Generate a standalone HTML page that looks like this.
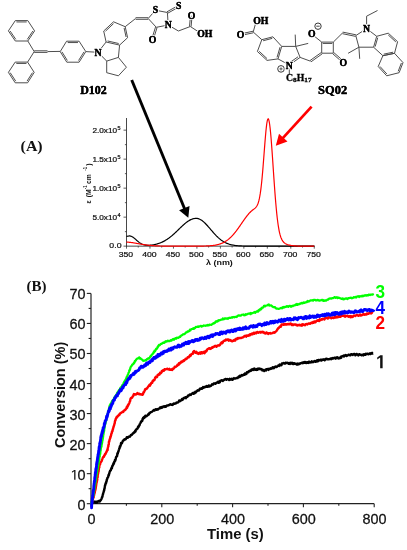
<!DOCTYPE html>
<html><head><meta charset="utf-8"><style>
html,body{margin:0;padding:0;background:#fff;}
svg{display:block;will-change:transform;}
</style></head><body>
<svg width="407" height="550" viewBox="0 0 407 550">
<rect width="407" height="550" fill="#fff"/>
<line x1="15.30" y1="20.60" x2="27.80" y2="20.60" stroke="#444" stroke-width="0.95"/>
<line x1="27.80" y1="20.60" x2="34.60" y2="30.90" stroke="#444" stroke-width="0.95"/>
<line x1="34.60" y1="30.90" x2="27.80" y2="41.00" stroke="#444" stroke-width="0.95"/>
<line x1="27.80" y1="41.00" x2="15.30" y2="41.00" stroke="#444" stroke-width="0.95"/>
<line x1="15.30" y1="41.00" x2="8.40" y2="30.90" stroke="#444" stroke-width="0.95"/>
<line x1="8.40" y1="30.90" x2="15.30" y2="20.60" stroke="#444" stroke-width="0.95"/>
<line x1="16.43" y1="21.95" x2="26.68" y2="21.95" stroke="#444" stroke-width="0.95"/>
<line x1="32.87" y1="31.06" x2="27.29" y2="39.34" stroke="#444" stroke-width="0.95"/>
<line x1="15.79" y1="39.33" x2="10.14" y2="31.05" stroke="#444" stroke-width="0.95"/>
<line x1="15.20" y1="62.10" x2="27.60" y2="62.10" stroke="#444" stroke-width="0.95"/>
<line x1="27.60" y1="62.10" x2="34.20" y2="72.40" stroke="#444" stroke-width="0.95"/>
<line x1="34.20" y1="72.40" x2="27.60" y2="82.80" stroke="#444" stroke-width="0.95"/>
<line x1="27.60" y1="82.80" x2="15.20" y2="82.80" stroke="#444" stroke-width="0.95"/>
<line x1="15.20" y1="82.80" x2="8.40" y2="72.40" stroke="#444" stroke-width="0.95"/>
<line x1="8.40" y1="72.40" x2="15.20" y2="62.10" stroke="#444" stroke-width="0.95"/>
<line x1="16.32" y1="63.45" x2="26.48" y2="63.45" stroke="#444" stroke-width="0.95"/>
<line x1="32.47" y1="72.61" x2="27.05" y2="81.14" stroke="#444" stroke-width="0.95"/>
<line x1="15.72" y1="81.13" x2="10.14" y2="72.60" stroke="#444" stroke-width="0.95"/>
<line x1="27.80" y1="41.00" x2="34.20" y2="51.60" stroke="#444" stroke-width="0.95"/>
<line x1="27.60" y1="62.10" x2="34.20" y2="51.60" stroke="#444" stroke-width="0.95"/>
<line x1="34.20" y1="52.40" x2="47.50" y2="52.40" stroke="#444" stroke-width="0.95"/>
<line x1="34.20" y1="50.80" x2="47.50" y2="50.80" stroke="#444" stroke-width="0.95"/>
<line x1="47.50" y1="51.60" x2="60.20" y2="51.40" stroke="#444" stroke-width="0.95"/>
<line x1="60.20" y1="51.60" x2="66.60" y2="41.20" stroke="#444" stroke-width="0.95"/>
<line x1="66.60" y1="41.20" x2="79.10" y2="41.20" stroke="#444" stroke-width="0.95"/>
<line x1="79.10" y1="41.20" x2="85.80" y2="51.60" stroke="#444" stroke-width="0.95"/>
<line x1="85.80" y1="51.60" x2="79.10" y2="62.20" stroke="#444" stroke-width="0.95"/>
<line x1="79.10" y1="62.20" x2="66.80" y2="62.20" stroke="#444" stroke-width="0.95"/>
<line x1="66.80" y1="62.20" x2="60.20" y2="51.60" stroke="#444" stroke-width="0.95"/>
<line x1="67.72" y1="42.55" x2="77.97" y2="42.55" stroke="#444" stroke-width="0.95"/>
<line x1="84.06" y1="51.83" x2="78.56" y2="60.52" stroke="#444" stroke-width="0.95"/>
<line x1="67.35" y1="60.53" x2="61.94" y2="51.84" stroke="#444" stroke-width="0.95"/>
<line x1="85.80" y1="51.60" x2="98.00" y2="52.30" stroke="#444" stroke-width="0.95"/>
<line x1="113.50" y1="21.80" x2="125.20" y2="26.70" stroke="#444" stroke-width="0.95"/>
<line x1="125.20" y1="26.70" x2="127.60" y2="37.70" stroke="#444" stroke-width="0.95"/>
<line x1="127.60" y1="37.70" x2="119.60" y2="45.10" stroke="#444" stroke-width="0.95"/>
<line x1="119.60" y1="45.10" x2="106.10" y2="42.00" stroke="#444" stroke-width="0.95"/>
<line x1="106.10" y1="42.00" x2="103.70" y2="31.00" stroke="#444" stroke-width="0.95"/>
<line x1="103.70" y1="31.00" x2="113.50" y2="21.80" stroke="#444" stroke-width="0.95"/>
<line x1="105.51" y1="31.16" x2="113.54" y2="23.61" stroke="#444" stroke-width="0.95"/>
<line x1="124.10" y1="27.98" x2="126.07" y2="37.00" stroke="#444" stroke-width="0.95"/>
<line x1="107.62" y1="40.96" x2="118.69" y2="43.51" stroke="#444" stroke-width="0.95"/>
<line x1="98.00" y1="52.30" x2="106.10" y2="42.00" stroke="#444" stroke-width="0.95"/>
<line x1="98.00" y1="52.30" x2="106.70" y2="61.10" stroke="#444" stroke-width="0.95"/>
<line x1="119.60" y1="45.10" x2="118.40" y2="57.40" stroke="#444" stroke-width="0.95"/>
<line x1="118.40" y1="57.40" x2="106.70" y2="61.10" stroke="#444" stroke-width="0.95"/>
<line x1="106.70" y1="61.10" x2="106.70" y2="72.70" stroke="#444" stroke-width="0.95"/>
<line x1="106.70" y1="72.70" x2="118.40" y2="75.80" stroke="#444" stroke-width="0.95"/>
<line x1="118.40" y1="75.80" x2="126.40" y2="67.20" stroke="#444" stroke-width="0.95"/>
<line x1="126.40" y1="67.20" x2="118.40" y2="57.40" stroke="#444" stroke-width="0.95"/>
<line x1="125.20" y1="26.70" x2="135.60" y2="18.50" stroke="#444" stroke-width="0.95"/>
<line x1="135.60" y1="19.30" x2="148.20" y2="19.30" stroke="#444" stroke-width="0.95"/>
<line x1="135.60" y1="17.70" x2="148.20" y2="17.70" stroke="#444" stroke-width="0.95"/>
<line x1="148.20" y1="18.50" x2="155.40" y2="10.20" stroke="#444" stroke-width="0.95"/>
<line x1="155.40" y1="10.20" x2="167.40" y2="12.50" stroke="#444" stroke-width="0.95"/>
<line x1="167.40" y1="12.50" x2="168.20" y2="25.00" stroke="#444" stroke-width="0.95"/>
<line x1="168.20" y1="25.00" x2="156.30" y2="27.30" stroke="#444" stroke-width="0.95"/>
<line x1="156.30" y1="27.30" x2="148.20" y2="18.50" stroke="#444" stroke-width="0.95"/>
<line x1="155.54" y1="27.06" x2="152.04" y2="38.26" stroke="#444" stroke-width="0.95"/>
<line x1="157.06" y1="27.54" x2="153.56" y2="38.74" stroke="#444" stroke-width="0.95"/>
<line x1="167.79" y1="13.20" x2="177.89" y2="7.50" stroke="#444" stroke-width="0.95"/>
<line x1="167.01" y1="11.80" x2="177.11" y2="6.10" stroke="#444" stroke-width="0.95"/>
<line x1="168.20" y1="25.00" x2="178.40" y2="31.00" stroke="#444" stroke-width="0.95"/>
<line x1="178.40" y1="31.00" x2="190.30" y2="26.50" stroke="#444" stroke-width="0.95"/>
<line x1="191.10" y1="26.57" x2="192.10" y2="15.57" stroke="#444" stroke-width="0.95"/>
<line x1="189.50" y1="26.43" x2="190.50" y2="15.43" stroke="#444" stroke-width="0.95"/>
<line x1="190.30" y1="26.50" x2="198.00" y2="31.50" stroke="#444" stroke-width="0.95"/>
<text transform="translate(155.50,12.60) scale(1.04,1)" font-family="Liberation Serif" font-weight="bold" font-size="9.4" text-anchor="middle" fill="#000" stroke="#fff" stroke-width="2.2" paint-order="stroke">S</text>
<text transform="translate(155.50,12.60) scale(1.04,1)" font-family="Liberation Serif" font-weight="bold" font-size="9.4" text-anchor="middle" fill="#000" stroke="#000" stroke-width="0.3">S</text>
<text transform="translate(178.60,9.20) scale(1.04,1)" font-family="Liberation Serif" font-weight="bold" font-size="9.4" text-anchor="middle" fill="#000" stroke="#fff" stroke-width="2.2" paint-order="stroke">S</text>
<text transform="translate(178.60,9.20) scale(1.04,1)" font-family="Liberation Serif" font-weight="bold" font-size="9.4" text-anchor="middle" fill="#000" stroke="#000" stroke-width="0.3">S</text>
<text transform="translate(168.20,28.30) scale(1.04,1)" font-family="Liberation Serif" font-weight="bold" font-size="9.4" text-anchor="middle" fill="#000" stroke="#fff" stroke-width="2.2" paint-order="stroke">N</text>
<text transform="translate(168.20,28.30) scale(1.04,1)" font-family="Liberation Serif" font-weight="bold" font-size="9.4" text-anchor="middle" fill="#000" stroke="#000" stroke-width="0.3">N</text>
<text transform="translate(152.60,42.80) scale(1.04,1)" font-family="Liberation Serif" font-weight="bold" font-size="9.4" text-anchor="middle" fill="#000" stroke="#fff" stroke-width="2.2" paint-order="stroke">O</text>
<text transform="translate(152.60,42.80) scale(1.04,1)" font-family="Liberation Serif" font-weight="bold" font-size="9.4" text-anchor="middle" fill="#000" stroke="#000" stroke-width="0.3">O</text>
<text transform="translate(191.60,18.80) scale(1.04,1)" font-family="Liberation Serif" font-weight="bold" font-size="9.4" text-anchor="middle" fill="#000" stroke="#fff" stroke-width="2.2" paint-order="stroke">O</text>
<text transform="translate(191.60,18.80) scale(1.04,1)" font-family="Liberation Serif" font-weight="bold" font-size="9.4" text-anchor="middle" fill="#000" stroke="#000" stroke-width="0.3">O</text>
<text transform="translate(197.20,36.60) scale(1.04,1)" font-family="Liberation Serif" font-weight="bold" font-size="9.4" text-anchor="start" fill="#000" stroke="#fff" stroke-width="2.2" paint-order="stroke">OH</text>
<text transform="translate(197.20,36.60) scale(1.04,1)" font-family="Liberation Serif" font-weight="bold" font-size="9.4" text-anchor="start" fill="#000" stroke="#000" stroke-width="0.3">OH</text>
<text transform="translate(98.00,55.60) scale(1.04,1)" font-family="Liberation Serif" font-weight="bold" font-size="9.4" text-anchor="middle" fill="#000" stroke="#fff" stroke-width="2.2" paint-order="stroke">N</text>
<text transform="translate(98.00,55.60) scale(1.04,1)" font-family="Liberation Serif" font-weight="bold" font-size="9.4" text-anchor="middle" fill="#000" stroke="#000" stroke-width="0.3">N</text>
<text transform="translate(93.50,93.70) scale(1.0,1)" font-family="Liberation Serif" font-weight="bold" font-size="12" text-anchor="middle" fill="#000" stroke="#fff" stroke-width="2.2" paint-order="stroke">D102</text>
<text transform="translate(93.50,93.70) scale(1.0,1)" font-family="Liberation Serif" font-weight="bold" font-size="12" text-anchor="middle" fill="#000" stroke="#000" stroke-width="0.3">D102</text>
<line x1="261.80" y1="39.70" x2="272.90" y2="36.80" stroke="#444" stroke-width="0.95"/>
<line x1="272.90" y1="36.80" x2="281.70" y2="46.40" stroke="#444" stroke-width="0.95"/>
<line x1="281.70" y1="46.40" x2="278.00" y2="58.90" stroke="#444" stroke-width="0.95"/>
<line x1="278.00" y1="58.90" x2="267.00" y2="60.40" stroke="#444" stroke-width="0.95"/>
<line x1="267.00" y1="60.40" x2="257.40" y2="51.50" stroke="#444" stroke-width="0.95"/>
<line x1="257.40" y1="51.50" x2="261.80" y2="39.70" stroke="#444" stroke-width="0.95"/>
<line x1="263.14" y1="40.75" x2="272.24" y2="38.37" stroke="#444" stroke-width="0.95"/>
<line x1="280.07" y1="47.14" x2="277.04" y2="57.39" stroke="#444" stroke-width="0.95"/>
<line x1="267.05" y1="58.61" x2="259.18" y2="51.31" stroke="#444" stroke-width="0.95"/>
<line x1="261.80" y1="39.70" x2="253.20" y2="32.00" stroke="#444" stroke-width="0.95"/>
<line x1="253.03" y1="31.22" x2="241.33" y2="33.72" stroke="#444" stroke-width="0.95"/>
<line x1="253.37" y1="32.78" x2="241.67" y2="35.28" stroke="#444" stroke-width="0.95"/>
<line x1="253.20" y1="32.00" x2="256.00" y2="22.00" stroke="#444" stroke-width="0.95"/>
<line x1="281.70" y1="46.40" x2="295.70" y2="46.40" stroke="#444" stroke-width="0.95"/>
<line x1="295.70" y1="46.40" x2="295.20" y2="34.60" stroke="#444" stroke-width="0.95"/>
<line x1="295.70" y1="46.40" x2="308.20" y2="43.40" stroke="#444" stroke-width="0.95"/>
<line x1="295.70" y1="46.40" x2="300.10" y2="57.40" stroke="#444" stroke-width="0.95"/>
<line x1="278.00" y1="58.90" x2="289.30" y2="65.00" stroke="#444" stroke-width="0.95"/>
<line x1="289.30" y1="65.00" x2="300.10" y2="57.40" stroke="#444" stroke-width="0.95"/>
<line x1="289.40" y1="62.85" x2="298.04" y2="56.77" stroke="#444" stroke-width="0.95"/>
<circle cx="281.0" cy="68.9" r="3.3" fill="none" stroke="#222" stroke-width="0.9"/>
<line x1="279.4" y1="68.9" x2="282.6" y2="68.9" stroke="#333" stroke-width="0.8"/><line x1="281.0" y1="67.3" x2="281.0" y2="70.5" stroke="#333" stroke-width="0.8"/>
<line x1="289.30" y1="65.00" x2="289.30" y2="74.00" stroke="#444" stroke-width="0.95"/>
<line x1="300.10" y1="57.40" x2="310.50" y2="61.20" stroke="#444" stroke-width="0.95"/>
<line x1="321.70" y1="42.10" x2="333.30" y2="42.10" stroke="#444" stroke-width="0.95"/>
<line x1="333.30" y1="42.10" x2="333.30" y2="53.20" stroke="#444" stroke-width="0.95"/>
<line x1="333.30" y1="53.20" x2="321.70" y2="53.20" stroke="#444" stroke-width="0.95"/>
<line x1="321.70" y1="53.20" x2="321.70" y2="42.10" stroke="#444" stroke-width="0.95"/>
<line x1="322.74" y1="43.45" x2="332.26" y2="43.45" stroke="#444" stroke-width="0.95"/>
<line x1="310.96" y1="61.85" x2="322.16" y2="53.85" stroke="#444" stroke-width="0.95"/>
<line x1="310.04" y1="60.55" x2="321.24" y2="52.55" stroke="#444" stroke-width="0.95"/>
<line x1="321.70" y1="42.10" x2="313.50" y2="35.50" stroke="#444" stroke-width="0.95"/>
<line x1="332.77" y1="53.80" x2="339.97" y2="60.10" stroke="#444" stroke-width="0.95"/>
<line x1="333.83" y1="52.60" x2="341.03" y2="58.90" stroke="#444" stroke-width="0.95"/>
<circle cx="318.0" cy="26.2" r="3.2" fill="none" stroke="#222" stroke-width="0.9"/><line x1="316.3" y1="26.2" x2="319.7" y2="26.2" stroke="#333" stroke-width="0.9"/>
<line x1="333.30" y1="42.10" x2="342.60" y2="32.90" stroke="#444" stroke-width="0.95"/>
<line x1="342.44" y1="33.68" x2="355.64" y2="36.38" stroke="#444" stroke-width="0.95"/>
<line x1="342.76" y1="32.12" x2="355.96" y2="34.82" stroke="#444" stroke-width="0.95"/>
<line x1="355.80" y1="35.60" x2="366.60" y2="28.60" stroke="#444" stroke-width="0.95"/>
<line x1="366.60" y1="28.60" x2="366.60" y2="16.20" stroke="#444" stroke-width="0.95"/>
<line x1="366.60" y1="16.20" x2="377.50" y2="10.50" stroke="#444" stroke-width="0.95"/>
<line x1="355.80" y1="35.60" x2="358.90" y2="47.20" stroke="#444" stroke-width="0.95"/>
<line x1="358.90" y1="47.20" x2="348.10" y2="53.30" stroke="#444" stroke-width="0.95"/>
<line x1="358.90" y1="47.20" x2="359.70" y2="58.80" stroke="#444" stroke-width="0.95"/>
<line x1="376.70" y1="36.30" x2="388.30" y2="33.20" stroke="#444" stroke-width="0.95"/>
<line x1="388.30" y1="33.20" x2="397.60" y2="41.70" stroke="#444" stroke-width="0.95"/>
<line x1="397.60" y1="41.70" x2="394.50" y2="53.30" stroke="#444" stroke-width="0.95"/>
<line x1="394.50" y1="53.30" x2="382.90" y2="55.70" stroke="#444" stroke-width="0.95"/>
<line x1="382.90" y1="55.70" x2="373.60" y2="47.20" stroke="#444" stroke-width="0.95"/>
<line x1="373.60" y1="47.20" x2="376.70" y2="36.30" stroke="#444" stroke-width="0.95"/>
<line x1="388.23" y1="34.96" x2="395.85" y2="41.93" stroke="#444" stroke-width="0.95"/>
<line x1="375.18" y1="46.59" x2="377.72" y2="37.65" stroke="#444" stroke-width="0.95"/>
<line x1="393.18" y1="52.19" x2="383.67" y2="54.16" stroke="#444" stroke-width="0.95"/>
<line x1="358.90" y1="47.20" x2="373.60" y2="47.20" stroke="#444" stroke-width="0.95"/>
<line x1="366.60" y1="28.60" x2="376.70" y2="36.30" stroke="#444" stroke-width="0.95"/>
<line x1="382.90" y1="55.70" x2="394.50" y2="53.30" stroke="#444" stroke-width="0.95"/>
<line x1="394.50" y1="53.30" x2="403.00" y2="62.60" stroke="#444" stroke-width="0.95"/>
<line x1="403.00" y1="62.60" x2="399.10" y2="72.70" stroke="#444" stroke-width="0.95"/>
<line x1="399.10" y1="72.70" x2="386.70" y2="75.80" stroke="#444" stroke-width="0.95"/>
<line x1="386.70" y1="75.80" x2="378.20" y2="66.50" stroke="#444" stroke-width="0.95"/>
<line x1="378.20" y1="66.50" x2="382.90" y2="55.70" stroke="#444" stroke-width="0.95"/>
<line x1="401.39" y1="63.02" x2="398.19" y2="71.30" stroke="#444" stroke-width="0.95"/>
<line x1="386.93" y1="74.05" x2="379.96" y2="66.43" stroke="#444" stroke-width="0.95"/>
<text transform="translate(240.50,38.00) scale(1.04,1)" font-family="Liberation Serif" font-weight="bold" font-size="9.4" text-anchor="middle" fill="#000" stroke="#fff" stroke-width="2.2" paint-order="stroke">O</text>
<text transform="translate(240.50,38.00) scale(1.04,1)" font-family="Liberation Serif" font-weight="bold" font-size="9.4" text-anchor="middle" fill="#000" stroke="#000" stroke-width="0.3">O</text>
<text transform="translate(253.20,24.00) scale(1.04,1)" font-family="Liberation Serif" font-weight="bold" font-size="9.4" text-anchor="start" fill="#000" stroke="#fff" stroke-width="2.2" paint-order="stroke">OH</text>
<text transform="translate(253.20,24.00) scale(1.04,1)" font-family="Liberation Serif" font-weight="bold" font-size="9.4" text-anchor="start" fill="#000" stroke="#000" stroke-width="0.3">OH</text>
<text transform="translate(289.30,68.60) scale(1.04,1)" font-family="Liberation Serif" font-weight="bold" font-size="9.4" text-anchor="middle" fill="#000" stroke="#fff" stroke-width="2.2" paint-order="stroke">N</text>
<text transform="translate(289.30,68.60) scale(1.04,1)" font-family="Liberation Serif" font-weight="bold" font-size="9.4" text-anchor="middle" fill="#000" stroke="#000" stroke-width="0.3">N</text>
<text transform="translate(311.80,37.40) scale(1.04,1)" font-family="Liberation Serif" font-weight="bold" font-size="9.4" text-anchor="middle" fill="#000" stroke="#fff" stroke-width="2.2" paint-order="stroke">O</text>
<text transform="translate(311.80,37.40) scale(1.04,1)" font-family="Liberation Serif" font-weight="bold" font-size="9.4" text-anchor="middle" fill="#000" stroke="#000" stroke-width="0.3">O</text>
<text transform="translate(343.20,65.80) scale(1.04,1)" font-family="Liberation Serif" font-weight="bold" font-size="9.4" text-anchor="middle" fill="#000" stroke="#fff" stroke-width="2.2" paint-order="stroke">O</text>
<text transform="translate(343.20,65.80) scale(1.04,1)" font-family="Liberation Serif" font-weight="bold" font-size="9.4" text-anchor="middle" fill="#000" stroke="#000" stroke-width="0.3">O</text>
<text transform="translate(366.60,31.90) scale(1.04,1)" font-family="Liberation Serif" font-weight="bold" font-size="9.4" text-anchor="middle" fill="#000" stroke="#fff" stroke-width="2.2" paint-order="stroke">N</text>
<text transform="translate(366.60,31.90) scale(1.04,1)" font-family="Liberation Serif" font-weight="bold" font-size="9.4" text-anchor="middle" fill="#000" stroke="#000" stroke-width="0.3">N</text>
<text transform="translate(286.00,80.60) scale(1.04,1)" font-family="Liberation Serif" font-weight="bold" font-size="9.4" text-anchor="start" fill="#000" stroke="#000" stroke-width="0.3">C<tspan font-size="7" dy="1.8">8</tspan><tspan dy="-1.8">H</tspan><tspan font-size="7" dy="1.8">17</tspan></text>
<text transform="translate(332.60,94.00) scale(1.04,1)" font-family="Liberation Serif" font-weight="bold" font-size="12" text-anchor="middle" fill="#000" stroke="#fff" stroke-width="2.2" paint-order="stroke">SQ02</text>
<text transform="translate(332.60,94.00) scale(1.04,1)" font-family="Liberation Serif" font-weight="bold" font-size="12" text-anchor="middle" fill="#000" stroke="#000" stroke-width="0.3">SQ02</text>
<line x1="131.7" y1="80.0" x2="184.69" y2="209.01" stroke="#000" stroke-width="2.9"/>
<polygon points="188.30,217.80 179.08,210.23 189.54,205.94" fill="#000"/>
<line x1="311.6" y1="106.7" x2="282.56" y2="138.33" stroke="#f00" stroke-width="2.7"/>
<polygon points="275.80,145.70 279.00,133.71 287.47,141.48" fill="#f00"/>
<line x1="126.5" y1="118.0" x2="126.5" y2="246.65" stroke="#333" stroke-width="0.9"/>
<line x1="126.0" y1="246.15" x2="314.76" y2="246.15" stroke="#333" stroke-width="0.9"/>
<line x1="123.5" y1="246.15" x2="126.5" y2="246.15" stroke="#333" stroke-width="0.8"/>
<line x1="124.9" y1="231.65" x2="126.5" y2="231.65" stroke="#333" stroke-width="0.8"/>
<line x1="123.5" y1="217.15" x2="126.5" y2="217.15" stroke="#333" stroke-width="0.8"/>
<line x1="124.9" y1="202.65" x2="126.5" y2="202.65" stroke="#333" stroke-width="0.8"/>
<line x1="123.5" y1="188.15" x2="126.5" y2="188.15" stroke="#333" stroke-width="0.8"/>
<line x1="124.9" y1="173.65" x2="126.5" y2="173.65" stroke="#333" stroke-width="0.8"/>
<line x1="123.5" y1="159.15" x2="126.5" y2="159.15" stroke="#333" stroke-width="0.8"/>
<line x1="124.9" y1="144.65" x2="126.5" y2="144.65" stroke="#333" stroke-width="0.8"/>
<line x1="123.5" y1="130.15" x2="126.5" y2="130.15" stroke="#333" stroke-width="0.8"/>
<line x1="126.50" y1="246.15" x2="126.50" y2="248.65" stroke="#333" stroke-width="0.8"/>
<line x1="138.24" y1="246.15" x2="138.24" y2="247.55" stroke="#333" stroke-width="0.8"/>
<line x1="149.97" y1="246.15" x2="149.97" y2="248.65" stroke="#333" stroke-width="0.8"/>
<line x1="161.70" y1="246.15" x2="161.70" y2="247.55" stroke="#333" stroke-width="0.8"/>
<line x1="173.44" y1="246.15" x2="173.44" y2="248.65" stroke="#333" stroke-width="0.8"/>
<line x1="185.18" y1="246.15" x2="185.18" y2="247.55" stroke="#333" stroke-width="0.8"/>
<line x1="196.91" y1="246.15" x2="196.91" y2="248.65" stroke="#333" stroke-width="0.8"/>
<line x1="208.64" y1="246.15" x2="208.64" y2="247.55" stroke="#333" stroke-width="0.8"/>
<line x1="220.38" y1="246.15" x2="220.38" y2="248.65" stroke="#333" stroke-width="0.8"/>
<line x1="232.12" y1="246.15" x2="232.12" y2="247.55" stroke="#333" stroke-width="0.8"/>
<line x1="243.85" y1="246.15" x2="243.85" y2="248.65" stroke="#333" stroke-width="0.8"/>
<line x1="255.59" y1="246.15" x2="255.59" y2="247.55" stroke="#333" stroke-width="0.8"/>
<line x1="267.32" y1="246.15" x2="267.32" y2="248.65" stroke="#333" stroke-width="0.8"/>
<line x1="279.06" y1="246.15" x2="279.06" y2="247.55" stroke="#333" stroke-width="0.8"/>
<line x1="290.79" y1="246.15" x2="290.79" y2="248.65" stroke="#333" stroke-width="0.8"/>
<line x1="302.52" y1="246.15" x2="302.52" y2="247.55" stroke="#333" stroke-width="0.8"/>
<line x1="314.26" y1="246.15" x2="314.26" y2="248.65" stroke="#333" stroke-width="0.8"/>
<text transform="translate(121.50,248.05) scale(1.15,1)" font-family="Liberation Sans" font-weight="normal" font-size="7.6" text-anchor="end" fill="#111" stroke="#111" stroke-width="0.22">0.0</text>
<text transform="translate(117.10,220.35) scale(1.085,1)" font-family="Liberation Sans" font-weight="normal" font-size="7.6" text-anchor="end" fill="#111" stroke="#111" stroke-width="0.22">5.0x10</text>
<text transform="translate(117.50,217.05) scale(1.1,1)" font-family="Liberation Sans" font-weight="normal" font-size="5" text-anchor="start" fill="#111" stroke="#111" stroke-width="0.22">4</text>
<text transform="translate(117.10,191.35) scale(1.085,1)" font-family="Liberation Sans" font-weight="normal" font-size="7.6" text-anchor="end" fill="#111" stroke="#111" stroke-width="0.22">1.0x10</text>
<text transform="translate(117.50,188.05) scale(1.1,1)" font-family="Liberation Sans" font-weight="normal" font-size="5" text-anchor="start" fill="#111" stroke="#111" stroke-width="0.22">5</text>
<text transform="translate(117.10,162.35) scale(1.085,1)" font-family="Liberation Sans" font-weight="normal" font-size="7.6" text-anchor="end" fill="#111" stroke="#111" stroke-width="0.22">1.5x10</text>
<text transform="translate(117.50,159.05) scale(1.1,1)" font-family="Liberation Sans" font-weight="normal" font-size="5" text-anchor="start" fill="#111" stroke="#111" stroke-width="0.22">5</text>
<text transform="translate(117.10,133.35) scale(1.085,1)" font-family="Liberation Sans" font-weight="normal" font-size="7.6" text-anchor="end" fill="#111" stroke="#111" stroke-width="0.22">2.0x10</text>
<text transform="translate(117.50,130.05) scale(1.1,1)" font-family="Liberation Sans" font-weight="normal" font-size="5" text-anchor="start" fill="#111" stroke="#111" stroke-width="0.22">5</text>
<text transform="translate(125.90,256.90) scale(1.14,1)" font-family="Liberation Sans" font-weight="normal" font-size="7.6" text-anchor="middle" fill="#111" stroke="#111" stroke-width="0.22">350</text>
<text transform="translate(149.37,256.90) scale(1.14,1)" font-family="Liberation Sans" font-weight="normal" font-size="7.6" text-anchor="middle" fill="#111" stroke="#111" stroke-width="0.22">400</text>
<text transform="translate(172.84,256.90) scale(1.14,1)" font-family="Liberation Sans" font-weight="normal" font-size="7.6" text-anchor="middle" fill="#111" stroke="#111" stroke-width="0.22">450</text>
<text transform="translate(196.31,256.90) scale(1.14,1)" font-family="Liberation Sans" font-weight="normal" font-size="7.6" text-anchor="middle" fill="#111" stroke="#111" stroke-width="0.22">500</text>
<text transform="translate(219.78,256.90) scale(1.14,1)" font-family="Liberation Sans" font-weight="normal" font-size="7.6" text-anchor="middle" fill="#111" stroke="#111" stroke-width="0.22">550</text>
<text transform="translate(243.25,256.90) scale(1.14,1)" font-family="Liberation Sans" font-weight="normal" font-size="7.6" text-anchor="middle" fill="#111" stroke="#111" stroke-width="0.22">600</text>
<text transform="translate(266.72,256.90) scale(1.14,1)" font-family="Liberation Sans" font-weight="normal" font-size="7.6" text-anchor="middle" fill="#111" stroke="#111" stroke-width="0.22">650</text>
<text transform="translate(290.19,256.90) scale(1.14,1)" font-family="Liberation Sans" font-weight="normal" font-size="7.6" text-anchor="middle" fill="#111" stroke="#111" stroke-width="0.22">700</text>
<text transform="translate(313.66,256.90) scale(1.14,1)" font-family="Liberation Sans" font-weight="normal" font-size="7.6" text-anchor="middle" fill="#111" stroke="#111" stroke-width="0.22">750</text>
<text transform="translate(219.40,265.10) scale(1.15,1)" font-family="Liberation Sans" font-weight="bold" font-size="7.8" text-anchor="middle" fill="#111" >λ (nm)</text>
<g transform="translate(90.5,203.4) rotate(-90) scale(1,1.1)" font-family="Liberation Sans" font-weight="bold" fill="#111"><text x="0" y="0" font-size="6.6">ε</text><text x="6.1" y="0" font-size="6.8">(</text><text x="8.4" y="0" font-size="6.8">M</text><text x="14.2" y="-3.0" font-size="4.3">-1</text><text x="19.4" y="0" font-size="6.8">cm</text><text x="32.6" y="-3.0" font-size="4.3">-1</text><text x="37.6" y="0" font-size="6.8">)</text></g>
<path d="M126.50,236.50 L126.97,236.34 L127.44,236.21 L127.91,236.11 L128.38,236.03 L128.85,235.98 L129.32,235.96 L129.79,235.97 L130.26,236.03 L130.72,236.13 L131.19,236.28 L131.66,236.48 L132.13,236.71 L132.60,236.98 L133.07,237.29 L133.54,237.63 L134.01,237.99 L134.48,238.37 L134.95,238.76 L135.42,239.17 L135.89,239.59 L136.36,240.01 L136.83,240.43 L137.30,240.84 L137.77,241.24 L138.24,241.63 L138.70,242.01 L139.17,242.37 L139.64,242.71 L140.11,243.03 L140.58,243.32 L141.05,243.60 L141.52,243.85 L141.99,244.08 L142.46,244.29 L142.93,244.47 L143.40,244.64 L143.87,244.78 L144.34,244.90 L144.81,245.01 L145.28,245.10 L145.75,245.17 L146.21,245.22 L146.68,245.27 L147.15,245.29 L147.62,245.31 L148.09,245.32 L148.56,245.31 L149.03,245.30 L149.50,245.27 L149.97,245.24 L150.44,245.20 L150.91,245.16 L151.38,245.10 L151.85,245.04 L152.32,244.98 L152.79,244.91 L153.26,244.83 L153.73,244.74 L154.19,244.65 L154.66,244.55 L155.13,244.45 L155.60,244.34 L156.07,244.23 L156.54,244.10 L157.01,243.98 L157.48,243.84 L157.95,243.70 L158.42,243.55 L158.89,243.39 L159.36,243.23 L159.83,243.06 L160.30,242.88 L160.77,242.69 L161.24,242.49 L161.70,242.29 L162.17,242.08 L162.64,241.86 L163.11,241.63 L163.58,241.39 L164.05,241.15 L164.52,240.89 L164.99,240.63 L165.46,240.35 L165.93,240.07 L166.40,239.78 L166.87,239.48 L167.34,239.17 L167.81,238.85 L168.28,238.52 L168.75,238.19 L169.22,237.84 L169.68,237.49 L170.15,237.12 L170.62,236.75 L171.09,236.37 L171.56,235.99 L172.03,235.59 L172.50,235.19 L172.97,234.78 L173.44,234.37 L173.91,233.95 L174.38,233.52 L174.85,233.09 L175.32,232.65 L175.79,232.21 L176.26,231.77 L176.73,231.32 L177.20,230.87 L177.66,230.41 L178.13,229.96 L178.60,229.50 L179.07,229.04 L179.54,228.59 L180.01,228.13 L180.48,227.68 L180.95,227.23 L181.42,226.78 L181.89,226.34 L182.36,225.90 L182.83,225.46 L183.30,225.04 L183.77,224.62 L184.24,224.20 L184.71,223.80 L185.18,223.41 L185.64,223.02 L186.11,222.65 L186.58,222.28 L187.05,221.93 L187.52,221.59 L187.99,221.27 L188.46,220.96 L188.93,220.67 L189.40,220.39 L189.87,220.12 L190.34,219.87 L190.81,219.64 L191.28,219.43 L191.75,219.24 L192.22,219.06 L192.69,218.90 L193.15,218.77 L193.62,218.65 L194.09,218.55 L194.56,218.47 L195.03,218.41 L195.50,218.37 L195.97,218.36 L196.44,218.36 L196.91,218.39 L197.38,218.45 L197.85,218.55 L198.32,218.67 L198.79,218.82 L199.26,218.99 L199.73,219.20 L200.20,219.43 L200.67,219.69 L201.13,219.97 L201.60,220.28 L202.07,220.61 L202.54,220.96 L203.01,221.34 L203.48,221.74 L203.95,222.15 L204.42,222.59 L204.89,223.04 L205.36,223.50 L205.83,223.98 L206.30,224.47 L206.77,224.98 L207.24,225.49 L207.71,226.02 L208.18,226.55 L208.64,227.09 L209.11,227.63 L209.58,228.18 L210.05,228.72 L210.52,229.27 L210.99,229.82 L211.46,230.37 L211.93,230.92 L212.40,231.46 L212.87,232.00 L213.34,232.54 L213.81,233.06 L214.28,233.58 L214.75,234.10 L215.22,234.60 L215.69,235.10 L216.16,235.58 L216.62,236.06 L217.09,236.52 L217.56,236.97 L218.03,237.41 L218.50,237.84 L218.97,238.25 L219.44,238.66 L219.91,239.05 L220.38,239.42 L220.85,239.79 L221.32,240.14 L221.79,240.47 L222.26,240.80 L222.73,241.11 L223.20,241.40 L223.67,241.69 L224.14,241.96 L224.60,242.22 L225.07,242.47 L225.54,242.70 L226.01,242.93 L226.48,243.14 L226.95,243.34 L227.42,243.53 L227.89,243.71 L228.36,243.88 L228.83,244.05 L229.30,244.20 L229.77,244.34 L230.24,244.47 L230.71,244.60 L231.18,244.72 L231.65,244.83 L232.12,244.93 L232.58,245.03 L233.05,245.12 L233.52,245.20 L233.99,245.28 L234.46,245.35 L234.93,245.42 L235.40,245.48 L235.87,245.54 L236.34,245.59 L236.81,245.64 L237.28,245.68 L237.75,245.73 L238.22,245.76 L238.69,245.80 L239.16,245.83 L239.63,245.86 L240.09,245.89 L240.56,245.91 L241.03,245.94 L241.50,245.96 L241.97,245.98 L242.44,245.99 L242.91,246.01 L243.38,246.02 L243.85,246.04 L244.32,246.05 L244.79,246.06 L245.26,246.07 L245.73,246.08 L246.20,246.08 L246.67,246.09 L247.14,246.10 L247.61,246.10 L248.07,246.11 L248.54,246.11 L249.01,246.12 L249.48,246.12 L249.95,246.12 L250.42,246.13 L250.89,246.13 L251.36,246.13 L251.83,246.13 L252.30,246.14 L252.77,246.14 L253.24,246.14 L253.71,246.14 L254.18,246.14 L254.65,246.14 L255.12,246.14 L255.59,246.14 L256.05,246.15 L256.52,246.15 L256.99,246.15 L257.46,246.15 L257.93,246.15 L258.40,246.15 L258.87,246.15 L259.34,246.15 L259.81,246.15 L260.28,246.15 L260.75,246.15 L261.22,246.15 L261.69,246.15 L262.16,246.15 L262.63,246.15 L263.10,246.15 L263.56,246.15 L264.03,246.15 L264.50,246.15 L264.97,246.15 L265.44,246.15 L265.91,246.15 L266.38,246.15 L266.85,246.15 L267.32,246.15 L267.79,246.15 L268.26,246.15 L268.73,246.15 L269.20,246.15 L269.67,246.15 L270.14,246.15 L270.61,246.15 L271.08,246.15 L271.54,246.15 L272.01,246.15 L272.48,246.15 L272.95,246.15 L273.42,246.15 L273.89,246.15 L274.36,246.15 L274.83,246.15 L275.30,246.15 L275.77,246.15 L276.24,246.15 L276.71,246.15 L277.18,246.15 L277.65,246.15 L278.12,246.15 L278.59,246.15 L279.06,246.15 L279.52,246.15 L279.99,246.15 L280.46,246.15 L280.93,246.15 L281.40,246.15 L281.87,246.15 L282.34,246.15 L282.81,246.15 L283.28,246.15 L283.75,246.15 L284.22,246.15 L284.69,246.15 L285.16,246.15 L285.63,246.15 L286.10,246.15 L286.57,246.15 L287.03,246.15 L287.50,246.15 L287.97,246.15 L288.44,246.15 L288.91,246.15 L289.38,246.15 L289.85,246.15 L290.32,246.15 L290.79,246.15 L291.26,246.15 L291.73,246.15 L292.20,246.15 L292.67,246.15 L293.14,246.15 L293.61,246.15 L294.08,246.15 L294.55,246.15 L295.01,246.15 L295.48,246.15 L295.95,246.15 L296.42,246.15 L296.89,246.15 L297.36,246.15 L297.83,246.15 L298.30,246.15 L298.77,246.15 L299.24,246.15 L299.71,246.15 L300.18,246.15 L300.65,246.15 L301.12,246.15 L301.59,246.15 L302.06,246.15 L302.52,246.15 L302.99,246.15 L303.46,246.15 L303.93,246.15 L304.40,246.15 L304.87,246.15 L305.34,246.15 L305.81,246.15 L306.28,246.15 L306.75,246.15 L307.22,246.15 L307.69,246.15 L308.16,246.15 L308.63,246.15 L309.10,246.15 L309.57,246.15 L310.04,246.15 L310.50,246.15 L310.97,246.15 L311.44,246.15 L311.91,246.15 L312.38,246.15 L312.85,246.15 L313.32,246.15 L313.79,246.15 L314.26,246.15" fill="none" stroke="#000" stroke-width="1.2"/>
<path d="M126.50,242.09 L126.97,242.11 L127.44,242.14 L127.91,242.18 L128.38,242.21 L128.85,242.25 L129.32,242.30 L129.79,242.35 L130.26,242.40 L130.72,242.46 L131.19,242.52 L131.66,242.58 L132.13,242.64 L132.60,242.71 L133.07,242.78 L133.54,242.85 L134.01,242.93 L134.48,243.00 L134.95,243.08 L135.42,243.16 L135.89,243.24 L136.36,243.32 L136.83,243.40 L137.30,243.49 L137.77,243.57 L138.24,243.65 L138.70,243.74 L139.17,243.82 L139.64,243.90 L140.11,243.98 L140.58,244.06 L141.05,244.15 L141.52,244.23 L141.99,244.30 L142.46,244.38 L142.93,244.46 L143.40,244.53 L143.87,244.60 L144.34,244.68 L144.81,244.75 L145.28,244.81 L145.75,244.88 L146.21,244.94 L146.68,245.01 L147.15,245.07 L147.62,245.12 L148.09,245.18 L148.56,245.23 L149.03,245.29 L149.50,245.34 L149.97,245.38 L150.44,245.43 L150.91,245.47 L151.38,245.51 L151.85,245.55 L152.32,245.59 L152.79,245.63 L153.26,245.66 L153.73,245.70 L154.19,245.73 L154.66,245.76 L155.13,245.78 L155.60,245.81 L156.07,245.83 L156.54,245.86 L157.01,245.88 L157.48,245.90 L157.95,245.92 L158.42,245.94 L158.89,245.95 L159.36,245.97 L159.83,245.98 L160.30,246.00 L160.77,246.01 L161.24,246.02 L161.70,246.03 L162.17,246.04 L162.64,246.05 L163.11,246.06 L163.58,246.07 L164.05,246.08 L164.52,246.08 L164.99,246.09 L165.46,246.09 L165.93,246.10 L166.40,246.10 L166.87,246.11 L167.34,246.11 L167.81,246.12 L168.28,246.12 L168.75,246.12 L169.22,246.13 L169.68,246.13 L170.15,246.13 L170.62,246.13 L171.09,246.13 L171.56,246.14 L172.03,246.14 L172.50,246.14 L172.97,246.14 L173.44,246.14 L173.91,246.14 L174.38,246.14 L174.85,246.14 L175.32,246.14 L175.79,246.14 L176.26,246.15 L176.73,246.15 L177.20,246.15 L177.66,246.15 L178.13,246.15 L178.60,246.15 L179.07,246.15 L179.54,246.15 L180.01,246.15 L180.48,246.15 L180.95,246.15 L181.42,246.15 L181.89,246.15 L182.36,246.15 L182.83,246.15 L183.30,246.15 L183.77,246.15 L184.24,246.15 L184.71,246.15 L185.18,246.15 L185.64,246.15 L186.11,246.15 L186.58,246.15 L187.05,246.15 L187.52,246.15 L187.99,246.15 L188.46,246.15 L188.93,246.15 L189.40,246.15 L189.87,246.15 L190.34,246.15 L190.81,246.15 L191.28,246.14 L191.75,246.14 L192.22,246.14 L192.69,246.14 L193.15,246.14 L193.62,246.14 L194.09,246.14 L194.56,246.14 L195.03,246.14 L195.50,246.13 L195.97,246.13 L196.44,246.13 L196.91,246.13 L197.38,246.13 L197.85,246.12 L198.32,246.12 L198.79,246.12 L199.26,246.11 L199.73,246.11 L200.20,246.10 L200.67,246.10 L201.13,246.09 L201.60,246.08 L202.07,246.08 L202.54,246.07 L203.01,246.06 L203.48,246.05 L203.95,246.04 L204.42,246.02 L204.89,246.01 L205.36,246.00 L205.83,245.98 L206.30,245.96 L206.77,245.94 L207.24,245.92 L207.71,245.90 L208.18,245.88 L208.64,245.85 L209.11,245.82 L209.58,245.79 L210.05,245.75 L210.52,245.72 L210.99,245.68 L211.46,245.63 L211.93,245.59 L212.40,245.53 L212.87,245.48 L213.34,245.42 L213.81,245.36 L214.28,245.29 L214.75,245.22 L215.22,245.14 L215.69,245.05 L216.16,244.96 L216.62,244.86 L217.09,244.76 L217.56,244.65 L218.03,244.53 L218.50,244.41 L218.97,244.27 L219.44,244.13 L219.91,243.98 L220.38,243.82 L220.85,243.65 L221.32,243.47 L221.79,243.28 L222.26,243.08 L222.73,242.87 L223.20,242.65 L223.67,242.41 L224.14,242.17 L224.60,241.91 L225.07,241.64 L225.54,241.35 L226.01,241.05 L226.48,240.74 L226.95,240.41 L227.42,240.07 L227.89,239.72 L228.36,239.35 L228.83,238.96 L229.30,238.57 L229.77,238.15 L230.24,237.72 L230.71,237.28 L231.18,236.82 L231.65,236.34 L232.12,235.85 L232.58,235.35 L233.05,234.83 L233.52,234.30 L233.99,233.75 L234.46,233.19 L234.93,232.62 L235.40,232.03 L235.87,231.43 L236.34,230.83 L236.81,230.20 L237.28,229.57 L237.75,228.93 L238.22,228.28 L238.69,227.63 L239.16,226.96 L239.63,226.29 L240.09,225.62 L240.56,224.94 L241.03,224.26 L241.50,223.57 L241.97,222.89 L242.44,222.20 L242.91,221.52 L243.38,220.85 L243.85,220.17 L244.32,219.51 L244.79,218.85 L245.26,218.20 L245.73,217.55 L246.20,216.93 L246.67,216.31 L247.14,215.71 L247.61,215.12 L248.07,214.55 L248.54,214.00 L249.01,213.47 L249.48,212.96 L249.95,212.47 L250.42,212.00 L250.89,211.55 L251.36,211.12 L251.83,210.72 L252.30,210.33 L252.77,209.96 L253.24,209.60 L253.71,209.25 L254.18,208.90 L254.65,208.52 L255.12,208.12 L255.59,207.67 L256.05,207.15 L256.52,206.53 L256.99,205.77 L257.46,204.84 L257.93,203.70 L258.40,202.33 L258.87,200.66 L259.34,198.65 L259.81,196.24 L260.28,193.40 L260.75,190.08 L261.22,186.26 L261.69,181.94 L262.16,177.13 L262.63,171.88 L263.10,166.24 L263.56,160.32 L264.03,154.22 L264.50,148.10 L264.97,142.13 L265.44,136.47 L265.91,131.31 L266.38,126.83 L266.85,123.21 L267.32,120.59 L267.79,119.09 L268.26,118.79 L268.73,119.70 L269.20,121.63 L269.67,124.52 L270.14,128.33 L270.61,132.95 L271.08,138.29 L271.54,144.22 L272.01,150.62 L272.48,157.33 L272.95,164.24 L273.42,171.20 L273.89,178.09 L274.36,184.81 L274.83,191.26 L275.30,197.36 L275.77,203.06 L276.24,208.32 L276.71,213.12 L277.18,217.44 L277.65,221.30 L278.12,224.71 L278.59,227.70 L279.06,230.29 L279.52,232.53 L279.99,234.44 L280.46,236.07 L280.93,237.45 L281.40,238.62 L281.87,239.61 L282.34,240.45 L282.81,241.15 L283.28,241.75 L283.75,242.26 L284.22,242.70 L284.69,243.08 L285.16,243.40 L285.63,243.69 L286.10,243.94 L286.57,244.16 L287.03,244.36 L287.50,244.54 L287.97,244.70 L288.44,244.85 L288.91,244.98 L289.38,245.10 L289.85,245.20 L290.32,245.30 L290.79,245.39 L291.26,245.47 L291.73,245.54 L292.20,245.61 L292.67,245.67 L293.14,245.72 L293.61,245.77 L294.08,245.81 L294.55,245.85 L295.01,245.88 L295.48,245.91 L295.95,245.94 L296.42,245.97 L296.89,245.99 L297.36,246.01 L297.83,246.03 L298.30,246.04 L298.77,246.06 L299.24,246.07 L299.71,246.08 L300.18,246.09 L300.65,246.10 L301.12,246.10 L301.59,246.11 L302.06,246.11 L302.52,246.12 L302.99,246.12 L303.46,246.13 L303.93,246.13 L304.40,246.13 L304.87,246.14 L305.34,246.14 L305.81,246.14 L306.28,246.14 L306.75,246.14 L307.22,246.14 L307.69,246.14 L308.16,246.15 L308.63,246.15 L309.10,246.15 L309.57,246.15 L310.04,246.15 L310.50,246.15 L310.97,246.15 L311.44,246.15 L311.91,246.15 L312.38,246.15 L312.85,246.15 L313.32,246.15 L313.79,246.15 L314.26,246.15" fill="none" stroke="#f00" stroke-width="1.2"/>
<line x1="91.0" y1="293.40" x2="91.0" y2="504.3" stroke="#222" stroke-width="1.2"/>
<line x1="90.4" y1="503.7" x2="374.20" y2="503.7" stroke="#222" stroke-width="1.2"/>
<line x1="86.8" y1="503.70" x2="91.0" y2="503.70" stroke="#222" stroke-width="1.1"/>
<text transform="translate(85.60,509.70) scale(1.03,1)" font-family="Liberation Sans" font-weight="normal" font-size="14" text-anchor="end" fill="#111" stroke="#111" stroke-width="0.25">0</text>
<line x1="88.6" y1="488.68" x2="91.0" y2="488.68" stroke="#222" stroke-width="1.1"/>
<line x1="86.8" y1="473.66" x2="91.0" y2="473.66" stroke="#222" stroke-width="1.1"/>
<polygon points="74.19,479.66 74.19,471.20 71.95,472.75 71.95,471.59 74.30,470.03 75.47,470.03 75.47,479.66" fill="#111"/>
<text transform="translate(77.58,479.66) scale(1.03,1)" font-family="Liberation Sans" font-weight="normal" font-size="14" text-anchor="start" fill="#111" stroke="#111" stroke-width="0.25">0</text>
<line x1="88.6" y1="458.64" x2="91.0" y2="458.64" stroke="#222" stroke-width="1.1"/>
<line x1="86.8" y1="443.61" x2="91.0" y2="443.61" stroke="#222" stroke-width="1.1"/>
<text transform="translate(85.60,449.61) scale(1.03,1)" font-family="Liberation Sans" font-weight="normal" font-size="14" text-anchor="end" fill="#111" stroke="#111" stroke-width="0.25">20</text>
<line x1="88.6" y1="428.59" x2="91.0" y2="428.59" stroke="#222" stroke-width="1.1"/>
<line x1="86.8" y1="413.57" x2="91.0" y2="413.57" stroke="#222" stroke-width="1.1"/>
<text transform="translate(85.60,419.57) scale(1.03,1)" font-family="Liberation Sans" font-weight="normal" font-size="14" text-anchor="end" fill="#111" stroke="#111" stroke-width="0.25">30</text>
<line x1="88.6" y1="398.55" x2="91.0" y2="398.55" stroke="#222" stroke-width="1.1"/>
<line x1="86.8" y1="383.53" x2="91.0" y2="383.53" stroke="#222" stroke-width="1.1"/>
<text transform="translate(85.60,389.53) scale(1.03,1)" font-family="Liberation Sans" font-weight="normal" font-size="14" text-anchor="end" fill="#111" stroke="#111" stroke-width="0.25">40</text>
<line x1="88.6" y1="368.51" x2="91.0" y2="368.51" stroke="#222" stroke-width="1.1"/>
<line x1="86.8" y1="353.49" x2="91.0" y2="353.49" stroke="#222" stroke-width="1.1"/>
<text transform="translate(85.60,359.49) scale(1.03,1)" font-family="Liberation Sans" font-weight="normal" font-size="14" text-anchor="end" fill="#111" stroke="#111" stroke-width="0.25">50</text>
<line x1="88.6" y1="338.46" x2="91.0" y2="338.46" stroke="#222" stroke-width="1.1"/>
<line x1="86.8" y1="323.44" x2="91.0" y2="323.44" stroke="#222" stroke-width="1.1"/>
<text transform="translate(85.60,329.44) scale(1.03,1)" font-family="Liberation Sans" font-weight="normal" font-size="14" text-anchor="end" fill="#111" stroke="#111" stroke-width="0.25">60</text>
<line x1="88.6" y1="308.42" x2="91.0" y2="308.42" stroke="#222" stroke-width="1.1"/>
<line x1="86.8" y1="293.40" x2="91.0" y2="293.40" stroke="#222" stroke-width="1.1"/>
<text transform="translate(85.60,299.40) scale(1.03,1)" font-family="Liberation Sans" font-weight="normal" font-size="14" text-anchor="end" fill="#111" stroke="#111" stroke-width="0.25">70</text>
<line x1="91.00" y1="503.7" x2="91.00" y2="507.3" stroke="#222" stroke-width="1.1"/>
<text transform="translate(91.40,523.60) scale(1.03,1)" font-family="Liberation Sans" font-weight="normal" font-size="14" text-anchor="middle" fill="#111" stroke="#111" stroke-width="0.25">0</text>
<line x1="126.40" y1="503.7" x2="126.40" y2="505.7" stroke="#222" stroke-width="1.1"/>
<line x1="161.80" y1="503.7" x2="161.80" y2="507.3" stroke="#222" stroke-width="1.1"/>
<text transform="translate(162.20,523.60) scale(1.03,1)" font-family="Liberation Sans" font-weight="normal" font-size="14" text-anchor="middle" fill="#111" stroke="#111" stroke-width="0.25">200</text>
<line x1="197.20" y1="503.7" x2="197.20" y2="505.7" stroke="#222" stroke-width="1.1"/>
<line x1="232.60" y1="503.7" x2="232.60" y2="507.3" stroke="#222" stroke-width="1.1"/>
<text transform="translate(233.00,523.60) scale(1.03,1)" font-family="Liberation Sans" font-weight="normal" font-size="14" text-anchor="middle" fill="#111" stroke="#111" stroke-width="0.25">400</text>
<line x1="268.00" y1="503.7" x2="268.00" y2="505.7" stroke="#222" stroke-width="1.1"/>
<line x1="303.40" y1="503.7" x2="303.40" y2="507.3" stroke="#222" stroke-width="1.1"/>
<text transform="translate(303.80,523.60) scale(1.03,1)" font-family="Liberation Sans" font-weight="normal" font-size="14" text-anchor="middle" fill="#111" stroke="#111" stroke-width="0.25">600</text>
<line x1="338.80" y1="503.7" x2="338.80" y2="505.7" stroke="#222" stroke-width="1.1"/>
<line x1="374.20" y1="503.7" x2="374.20" y2="507.3" stroke="#222" stroke-width="1.1"/>
<text transform="translate(374.60,523.60) scale(1.03,1)" font-family="Liberation Sans" font-weight="normal" font-size="14" text-anchor="middle" fill="#111" stroke="#111" stroke-width="0.25">800</text>
<text transform="translate(235.40,538.60) scale(1.05,1)" font-family="Liberation Sans" font-weight="bold" font-size="14.2" text-anchor="middle" fill="#111" >Time (s)</text>
<text transform="translate(65.4,394.9) rotate(-90) scale(1,1.05)" font-family="Liberation Sans" font-weight="bold" font-size="14.5" text-anchor="middle" fill="#111">Conversion (%)</text>
<path d="M91.46,502.78 L92.28,502.21 L93.01,502.20 L93.54,502.34 L94.17,502.17 L94.81,501.59 L95.52,502.62 L96.09,501.65 L96.83,502.67 L97.45,501.78 L98.16,501.19 L98.77,501.48 L99.15,500.85 L99.70,501.51 L100.20,500.78 L100.81,500.09 L101.31,499.24 L101.38,498.88 L101.68,498.63 L101.78,498.28 L101.98,497.27 L102.22,497.29 L102.29,496.52 L102.51,496.39 L102.73,494.93 L102.95,494.09 L103.01,494.47 L103.13,493.48 L103.25,493.15 L103.55,492.41 L103.72,491.42 L103.83,491.24 L103.95,490.43 L104.15,490.57 L104.22,489.55 L104.29,489.00 L104.55,488.84 L104.73,487.18 L104.79,487.15 L104.87,486.24 L105.05,485.13 L105.17,485.50 L105.33,484.12 L105.53,484.46 L105.62,483.22 L105.92,483.28 L106.19,482.66 L106.30,481.39 L106.53,481.50 L106.86,479.81 L106.92,479.34 L107.14,479.12 L107.42,478.20 L107.52,477.84 L107.81,477.47 L108.14,477.06 L108.26,476.36 L108.51,474.92 L108.77,475.41 L108.97,474.85 L109.12,473.69 L109.31,473.49 L109.54,472.08 L109.82,471.67 L110.09,470.95 L110.26,470.54 L110.53,470.30 L110.76,470.51 L111.12,468.87 L111.29,468.61 L111.55,467.72 L111.89,468.46 L112.06,467.14 L112.23,466.02 L112.52,465.70 L112.87,464.99 L112.94,465.62 L113.28,463.86 L113.52,463.12 L113.76,463.99 L114.06,463.01 L114.18,461.96 L114.40,462.01 L114.71,461.47 L114.90,460.08 L115.24,460.66 L115.48,459.84 L115.71,459.18 L115.83,458.30 L116.10,457.01 L116.27,456.83 L116.55,456.89 L116.88,455.93 L117.07,456.15 L117.27,454.62 L117.31,453.82 L117.50,453.20 L117.78,453.65 L118.01,452.42 L118.17,452.31 L118.25,451.51 L118.61,451.10 L118.77,450.05 L118.84,449.93 L119.07,449.35 L119.42,448.18 L119.52,448.44 L119.81,446.71 L119.91,446.11 L120.29,446.53 L120.36,445.99 L120.75,445.17 L120.85,444.44 L121.03,443.07 L121.56,443.50 L121.83,443.40 L122.17,442.78 L122.62,441.27 L122.86,440.86 L123.22,440.78 L123.59,440.00 L123.93,440.22 L124.52,439.21 L125.12,439.56 L125.63,439.25 L126.20,438.35 L126.75,437.25 L127.29,437.17 L127.75,437.77 L128.33,436.96 L129.00,436.76 L129.47,436.38 L130.06,436.45 L130.52,435.79 L131.00,434.91 L131.55,434.80 L131.95,434.73 L132.47,433.80 L132.85,433.44 L133.28,433.27 L133.71,432.57 L134.16,432.73 L134.66,432.18 L135.15,430.80 L135.52,431.37 L136.02,429.71 L136.32,429.71 L136.66,428.86 L137.00,428.95 L137.48,428.75 L137.70,427.92 L138.14,426.51 L138.53,427.20 L138.74,426.63 L139.11,425.38 L139.57,425.35 L139.75,424.20 L140.16,423.51 L140.44,422.93 L140.84,421.94 L141.11,422.03 L141.30,421.33 L141.72,421.06 L141.91,421.23 L142.36,420.67 L142.52,419.07 L142.81,419.30 L143.15,417.78 L143.48,418.42 L144.05,417.08 L144.41,417.71 L144.98,417.02 L145.38,415.70 L145.99,415.89 L146.35,416.30 L146.96,415.73 L147.34,415.45 L147.82,415.10 L148.39,413.96 L148.96,414.50 L149.45,412.97 L150.04,412.79 L150.51,412.34 L151.04,412.06 L151.64,411.88 L152.27,411.52 L152.77,411.01 L153.28,410.43 L153.81,410.09 L154.45,410.55 L154.89,410.10 L155.59,409.21 L156.15,409.47 L156.67,409.85 L157.24,409.13 L157.88,409.62 L158.40,409.17 L159.06,408.64 L159.59,407.98 L160.10,407.43 L160.69,408.12 L161.32,407.03 L161.87,407.82 L162.61,407.34 L163.08,406.47 L163.67,406.57 L164.23,406.32 L164.85,406.95 L165.58,406.18 L166.03,406.66 L166.64,405.60 L167.17,405.49 L167.85,405.52 L168.39,405.38 L168.95,404.87 L169.56,404.93 L170.14,404.22 L170.79,404.39 L171.44,404.68 L172.06,404.73 L172.65,404.92 L173.18,403.94 L173.85,403.40 L174.34,403.86 L174.76,403.88 L175.48,403.29 L176.00,403.29 L176.43,402.59 L177.05,402.78 L177.66,402.49 L178.17,402.31 L178.74,401.74 L179.20,400.47 L179.73,400.69 L180.27,401.09 L180.91,400.46 L181.48,400.23 L182.00,398.90 L182.61,399.70 L183.10,399.07 L183.68,398.05 L184.25,398.01 L184.66,397.72 L185.35,397.31 L185.90,398.16 L186.40,396.95 L186.95,397.09 L187.55,396.68 L188.09,395.55 L188.54,395.50 L189.22,395.26 L189.74,394.51 L190.20,394.58 L190.88,394.90 L191.44,393.99 L191.96,393.93 L192.51,393.10 L193.15,392.91 L193.72,393.70 L194.09,392.67 L194.81,393.12 L195.29,391.75 L195.79,392.45 L196.34,391.58 L196.88,391.17 L197.59,390.26 L198.11,390.51 L198.68,390.48 L199.10,390.45 L199.70,388.82 L200.15,389.19 L200.79,388.59 L201.28,388.33 L201.86,388.75 L202.35,388.30 L203.07,387.03 L203.69,387.75 L204.28,386.95 L204.77,386.93 L205.50,387.06 L205.97,386.65 L206.56,385.91 L207.12,386.92 L207.76,386.90 L208.35,385.73 L209.00,385.44 L209.57,386.42 L210.28,386.04 L210.83,386.02 L211.48,385.22 L212.03,384.22 L212.62,384.56 L213.22,384.60 L213.72,383.45 L214.44,383.32 L214.94,383.39 L215.50,383.73 L216.23,382.76 L216.75,382.56 L217.33,382.45 L217.84,381.85 L218.44,382.71 L219.10,381.44 L219.78,382.37 L220.29,380.85 L220.84,380.54 L221.47,380.30 L222.05,380.32 L222.71,381.03 L223.35,380.08 L223.88,380.01 L224.48,379.49 L225.01,379.17 L225.84,378.93 L226.40,379.67 L227.12,379.04 L227.65,379.08 L228.33,379.37 L229.09,379.96 L229.72,378.71 L230.21,379.73 L231.03,379.37 L231.62,378.65 L232.19,379.84 L232.88,379.53 L233.52,378.42 L233.96,378.08 L234.65,378.67 L235.34,378.53 L235.89,378.40 L236.46,377.88 L236.99,378.02 L237.64,378.03 L238.33,376.91 L238.78,376.59 L239.43,377.01 L239.87,375.83 L240.50,376.36 L241.03,375.58 L241.62,375.02 L242.11,375.45 L242.79,375.48 L243.33,374.99 L243.75,374.40 L244.44,374.85 L244.86,373.58 L245.41,374.22 L245.91,373.26 L246.47,373.92 L246.90,372.24 L247.43,372.48 L248.02,371.81 L248.55,372.28 L249.01,371.14 L249.61,370.96 L250.10,370.50 L250.49,370.95 L251.02,370.90 L251.57,369.41 L252.03,369.42 L252.63,369.87 L253.14,369.04 L253.76,369.91 L254.36,368.53 L254.95,369.04 L255.73,369.78 L256.30,369.95 L256.95,368.94 L257.41,369.85 L258.13,368.50 L258.72,369.02 L259.27,368.95 L259.84,368.60 L260.48,369.27 L261.22,369.07 L261.84,369.34 L262.33,370.40 L263.03,369.97 L263.49,370.17 L264.16,370.98 L264.74,370.30 L265.48,369.60 L265.98,370.57 L266.65,369.21 L267.11,369.04 L267.88,369.14 L268.45,369.90 L268.97,368.76 L269.69,369.08 L270.15,369.02 L270.76,368.16 L271.30,368.68 L272.09,368.30 L272.71,367.19 L273.17,367.66 L273.93,368.18 L274.42,366.93 L275.04,367.09 L275.75,366.42 L276.33,367.06 L276.95,366.91 L277.51,366.04 L278.06,365.89 L278.71,365.18 L279.14,365.90 L279.70,364.58 L280.21,365.02 L280.82,365.37 L281.48,365.09 L281.90,363.45 L282.42,363.78 L283.09,363.41 L283.55,363.08 L284.27,363.46 L284.93,363.72 L285.56,362.63 L286.23,362.89 L286.82,363.01 L287.50,362.75 L288.04,362.82 L288.66,363.78 L289.39,362.94 L290.00,363.94 L290.66,362.80 L291.36,363.43 L292.01,362.70 L292.51,363.88 L293.20,364.12 L293.64,363.29 L294.27,363.23 L295.05,363.92 L295.65,363.71 L296.25,363.92 L296.73,364.52 L297.48,363.61 L298.02,364.48 L298.54,363.95 L299.13,363.55 L299.75,363.99 L300.43,363.24 L300.90,363.27 L301.64,362.90 L302.16,362.77 L302.86,363.14 L303.31,362.31 L303.98,362.83 L304.63,361.99 L305.13,362.82 L305.78,362.14 L306.36,363.07 L306.96,362.42 L307.57,362.13 L308.27,362.93 L308.77,361.66 L309.45,361.60 L309.90,362.58 L310.58,362.39 L311.18,362.41 L311.79,361.26 L312.30,361.78 L313.04,362.20 L313.53,361.65 L314.20,361.36 L314.76,360.91 L315.45,361.75 L315.97,360.99 L316.72,361.58 L317.21,360.21 L317.96,361.36 L318.48,359.86 L319.18,360.25 L319.78,360.48 L320.38,359.71 L320.99,359.72 L321.53,360.57 L322.23,359.49 L322.73,359.73 L323.40,359.63 L323.94,359.34 L324.68,360.23 L325.16,359.64 L325.92,358.77 L326.55,358.81 L327.12,359.38 L327.74,358.93 L328.32,359.27 L328.94,359.31 L329.56,358.91 L330.09,359.10 L330.80,358.45 L331.47,359.19 L332.02,358.22 L332.64,358.04 L333.19,358.45 L333.80,358.39 L334.50,357.71 L335.14,357.67 L335.77,358.62 L336.34,357.43 L336.95,357.82 L337.65,357.35 L338.24,358.54 L338.82,358.17 L339.33,358.32 L340.00,358.18 L340.66,356.77 L341.21,357.70 L341.64,356.60 L342.35,356.09 L342.95,356.04 L343.51,355.62 L344.03,356.55 L344.54,355.34 L345.19,355.31 L345.69,354.99 L346.30,356.00 L347.00,355.82 L347.49,355.54 L348.07,355.04 L348.76,354.66 L349.40,354.84 L349.93,355.21 L350.43,355.26 L351.13,354.24 L351.77,354.08 L352.42,354.58 L352.91,354.90 L353.53,354.05 L354.20,353.89 L354.83,354.23 L355.41,355.36 L356.01,354.91 L356.56,353.95 L357.12,354.22 L357.85,354.69 L358.44,355.43 L358.97,354.47 L359.69,354.21 L360.17,354.75 L360.80,354.80 L361.43,355.18 L362.12,354.66 L362.74,354.92 L363.25,355.47 L363.88,354.14 L364.46,354.73 L365.23,354.80 L365.75,353.88 L366.28,354.31 L367.00,353.72 L367.63,353.72 L368.31,354.09 L368.79,354.29 L369.38,353.68 L370.07,353.18 L370.62,353.94 L371.24,353.54 L372.04,352.87 L372.52,353.52 L373.20,353.30" fill="none" stroke="#000" stroke-width="2.4" stroke-linejoin="round"/>
<path d="M91.50,503.71 L91.75,502.41 L91.85,502.00 L91.98,502.28 L92.32,501.42 L92.36,501.02 L92.70,499.85 L92.89,499.23 L92.98,498.11 L93.17,497.41 L93.38,497.87 L93.65,497.42 L93.84,495.95 L93.94,495.61 L94.12,495.15 L94.15,494.73 L94.42,493.50 L94.53,492.60 L94.54,492.34 L94.77,492.81 L94.90,491.29 L95.06,490.70 L95.06,490.97 L95.27,490.06 L95.41,489.89 L95.50,489.09 L95.68,488.52 L95.76,487.73 L95.91,486.51 L95.94,486.38 L96.02,486.22 L96.13,484.29 L96.22,485.04 L96.37,483.26 L96.41,482.51 L96.64,482.80 L96.74,482.36 L96.71,481.54 L96.87,481.28 L97.06,480.79 L97.01,480.15 L97.28,479.67 L97.22,477.96 L97.32,477.10 L97.57,477.67 L97.63,477.09 L97.73,475.68 L97.72,474.80 L97.95,474.36 L97.96,474.09 L98.00,473.24 L98.16,473.34 L98.27,472.15 L98.49,471.83 L98.57,471.41 L98.51,470.51 L98.69,470.45 L98.77,469.76 L98.91,468.43 L99.07,467.65 L99.16,467.17 L99.10,466.63 L99.35,467.20 L99.30,465.87 L99.50,465.74 L99.54,464.69 L99.87,464.60 L100.15,464.17 L100.46,462.47 L100.84,462.30 L101.02,461.90 L101.32,461.53 L101.74,460.93 L102.03,459.68 L102.28,459.14 L102.68,458.08 L102.98,457.39 L103.14,457.14 L103.58,456.90 L103.78,456.88 L104.07,455.72 L104.46,455.63 L104.83,454.94 L105.07,453.94 L105.36,454.19 L105.78,453.51 L106.01,452.53 L106.45,452.22 L106.69,451.34 L107.21,450.31 L107.44,449.70 L107.67,449.89 L107.68,448.23 L107.82,447.86 L108.00,446.99 L108.09,446.41 L108.35,446.59 L108.30,446.32 L108.42,444.83 L108.72,444.82 L108.80,443.65 L108.81,443.33 L108.92,442.06 L109.10,441.18 L109.23,441.69 L109.41,440.63 L109.53,439.94 L109.61,439.58 L109.84,439.20 L110.12,438.16 L110.23,438.05 L110.38,436.69 L110.62,437.09 L110.81,436.24 L111.01,435.63 L111.15,434.71 L111.26,434.39 L111.40,433.50 L111.72,433.36 L111.87,432.09 L112.00,431.81 L112.22,431.16 L112.42,431.37 L112.50,430.37 L112.80,429.39 L112.92,429.69 L113.01,428.47 L113.20,428.22 L113.53,427.23 L113.53,426.71 L113.79,426.33 L113.96,425.61 L114.19,424.83 L114.28,424.87 L114.41,423.88 L114.61,423.39 L114.73,423.13 L114.95,421.13 L115.10,421.05 L115.22,420.48 L115.47,420.30 L115.63,419.05 L115.77,419.16 L116.09,418.24 L116.36,418.14 L116.81,416.74 L117.17,417.07 L117.72,416.34 L118.07,415.72 L118.43,415.81 L118.87,414.81 L119.51,414.71 L119.99,413.57 L120.56,412.95 L121.17,412.93 L121.72,412.44 L122.18,412.06 L122.74,411.59 L123.20,412.03 L123.65,410.85 L124.04,410.74 L124.46,410.52 L124.90,409.64 L125.34,409.91 L125.56,409.41 L126.12,408.88 L126.36,408.49 L126.84,406.80 L127.11,407.74 L127.63,406.23 L127.75,405.50 L128.01,405.89 L128.26,404.39 L128.60,404.79 L128.69,404.38 L129.01,403.65 L129.25,403.26 L129.50,402.62 L129.62,401.84 L129.91,401.35 L130.13,401.00 L130.38,399.51 L130.55,398.76 L130.96,398.13 L131.31,397.75 L131.68,397.77 L132.05,397.80 L132.30,397.26 L132.75,396.33 L133.15,396.24 L133.45,395.10 L133.93,394.07 L134.23,394.40 L134.73,394.26 L135.49,394.65 L136.05,394.62 L136.72,393.78 L137.42,393.00 L138.02,393.79 L138.57,394.04 L139.17,393.70 L139.81,394.37 L140.34,394.10 L140.98,394.51 L141.67,394.36 L142.27,394.76 L142.52,393.99 L142.85,394.48 L143.20,393.64 L143.46,392.36 L143.77,392.20 L144.16,391.93 L144.36,391.27 L144.85,390.43 L145.01,389.50 L145.44,388.90 L146.06,389.10 L146.45,388.94 L146.94,388.25 L147.32,387.84 L147.78,387.36 L148.22,386.36 L148.65,386.30 L149.11,385.33 L149.44,384.81 L149.93,385.65 L150.28,384.36 L150.69,384.52 L151.02,383.25 L151.34,383.03 L151.72,382.57 L152.16,382.86 L152.42,381.84 L152.80,380.69 L153.33,380.91 L153.72,380.24 L153.92,379.68 L154.41,380.04 L154.87,378.87 L155.13,377.84 L155.55,377.54 L155.83,376.77 L156.25,377.32 L156.73,377.29 L157.18,376.69 L157.64,374.96 L158.21,374.84 L158.67,374.31 L158.99,374.73 L159.57,374.40 L160.03,372.79 L160.46,373.28 L160.88,373.16 L161.30,372.75 L161.84,370.87 L162.25,371.46 L162.96,370.24 L163.41,370.86 L163.93,370.69 L164.55,369.13 L165.07,369.54 L165.64,369.33 L166.13,369.15 L166.83,369.00 L167.54,368.73 L168.14,369.36 L168.91,369.44 L169.49,368.78 L170.05,369.88 L170.83,369.74 L171.41,369.48 L172.20,369.90 L172.61,368.70 L173.06,369.16 L173.54,368.44 L174.08,368.35 L174.61,367.02 L174.93,366.58 L175.51,366.65 L176.07,366.69 L176.41,366.20 L177.05,365.88 L177.50,364.63 L178.05,365.06 L178.50,364.85 L178.93,363.24 L179.46,363.95 L179.88,363.51 L180.52,362.37 L180.95,362.67 L181.41,361.59 L181.86,362.04 L182.46,361.24 L182.85,361.42 L183.53,360.23 L184.03,360.89 L184.62,359.99 L185.08,359.75 L185.56,358.82 L186.09,359.25 L186.66,358.71 L187.21,358.30 L187.69,357.25 L188.40,357.41 L188.68,357.35 L189.27,356.18 L189.68,356.01 L190.12,355.07 L190.48,356.07 L191.10,354.86 L191.49,354.07 L191.99,353.86 L192.47,353.92 L192.90,353.76 L193.24,351.91 L193.69,351.67 L194.12,351.03 L194.85,352.47 L195.48,352.80 L196.21,351.69 L196.79,352.40 L197.34,353.46 L198.01,353.08 L198.73,353.88 L199.38,352.95 L199.98,352.51 L200.73,353.67 L201.22,352.15 L201.87,352.53 L202.65,353.27 L203.28,351.90 L203.91,352.80 L204.53,353.13 L204.91,351.44 L205.55,352.20 L206.04,350.81 L206.52,351.07 L206.92,349.99 L207.45,349.26 L208.00,348.90 L208.50,348.59 L209.14,348.12 L209.69,348.12 L210.11,348.94 L210.69,348.68 L211.37,348.33 L211.78,347.40 L212.32,347.84 L213.06,347.24 L213.57,346.66 L214.23,346.72 L214.79,346.06 L215.29,345.79 L215.98,346.38 L216.46,346.71 L217.07,345.87 L217.64,345.51 L218.37,345.45 L218.72,345.28 L219.24,345.48 L219.69,345.18 L220.17,344.65 L220.78,343.21 L221.23,342.91 L221.67,342.37 L222.18,343.15 L222.80,342.64 L223.17,341.41 L223.88,340.79 L224.40,340.87 L225.00,340.17 L225.51,340.39 L225.93,339.60 L226.62,340.11 L227.04,339.70 L227.77,339.53 L228.29,339.56 L228.81,340.66 L229.50,339.95 L229.97,339.93 L230.66,340.69 L231.18,340.41 L231.84,341.31 L232.47,341.27 L232.94,340.65 L233.60,340.82 L234.14,339.96 L234.71,340.04 L235.27,340.50 L235.75,338.89 L236.38,339.24 L236.92,338.59 L237.34,339.10 L237.96,337.93 L238.55,338.40 L239.07,338.12 L239.75,337.94 L240.27,338.07 L241.00,338.13 L241.49,337.73 L242.10,337.62 L242.62,337.63 L243.39,336.89 L243.89,336.80 L244.49,335.88 L245.16,336.04 L245.60,335.70 L246.20,336.63 L246.75,335.39 L247.47,335.39 L247.92,335.85 L248.63,335.58 L249.24,334.80 L249.84,335.45 L250.23,334.28 L250.89,334.58 L251.41,333.73 L251.99,333.48 L252.59,334.29 L253.07,333.58 L253.75,332.70 L254.41,333.69 L254.97,332.75 L255.70,332.74 L256.26,333.20 L256.98,332.12 L257.51,331.95 L258.20,332.76 L258.92,332.49 L259.56,332.22 L260.02,331.86 L260.82,332.63 L261.29,332.00 L261.98,332.05 L262.57,331.74 L263.16,332.53 L263.69,332.12 L264.49,333.21 L265.12,333.10 L265.72,333.58 L266.36,332.40 L266.94,332.85 L267.58,332.96 L268.18,334.04 L268.82,333.13 L269.46,333.32 L270.20,333.03 L270.73,333.49 L271.35,333.33 L272.17,333.13 L272.69,332.98 L273.40,332.43 L273.97,332.32 L274.66,332.66 L275.09,331.89 L275.47,331.81 L276.05,331.38 L276.43,330.91 L276.78,330.47 L277.26,329.70 L277.72,329.05 L278.10,328.26 L278.52,328.22 L279.00,327.88 L279.36,327.08 L279.97,326.46 L280.35,326.39 L280.74,326.68 L281.18,325.91 L281.59,324.40 L282.17,324.51 L282.67,324.35 L283.40,324.80 L283.99,323.95 L284.81,324.65 L285.31,323.97 L286.00,324.40 L286.71,324.58 L287.41,324.00 L288.05,324.26 L288.71,323.94 L289.37,324.37 L290.05,323.57 L290.70,323.47 L291.33,324.42 L291.93,325.06 L292.60,324.32 L293.30,325.08 L293.92,324.42 L294.55,324.63 L295.26,324.47 L295.84,324.95 L296.50,324.69 L297.24,325.57 L297.83,325.05 L298.43,324.93 L299.07,325.42 L299.82,324.78 L300.51,325.02 L301.13,325.68 L301.78,324.61 L302.30,325.56 L302.84,324.15 L303.58,324.71 L304.28,325.01 L304.85,325.20 L305.49,324.34 L306.17,324.01 L306.74,324.17 L307.38,324.56 L308.09,323.78 L308.62,323.41 L309.31,323.52 L309.97,323.83 L310.68,323.07 L311.20,323.10 L311.94,322.51 L312.48,323.05 L313.03,322.13 L313.80,322.67 L314.30,321.38 L314.98,322.04 L315.56,322.27 L316.18,321.20 L316.63,320.79 L317.30,320.90 L317.84,320.20 L318.53,320.62 L319.07,320.99 L319.73,319.34 L320.28,320.25 L320.86,319.89 L321.39,319.16 L322.15,319.43 L322.70,318.69 L323.26,319.08 L323.80,319.07 L324.45,319.45 L325.04,318.42 L325.54,317.89 L326.26,317.66 L326.72,317.61 L327.46,318.52 L328.13,318.43 L328.68,317.17 L329.48,317.57 L330.12,317.55 L330.67,317.35 L331.31,318.24 L332.06,317.34 L332.69,317.33 L333.20,317.98 L333.90,317.97 L334.46,317.35 L335.01,316.38 L335.74,317.48 L336.20,317.44 L336.89,316.44 L337.44,317.31 L338.01,317.18 L338.55,316.23 L339.30,315.95 L339.87,316.90 L340.56,316.74 L341.17,315.78 L341.85,315.76 L342.63,315.89 L343.20,315.59 L343.85,315.96 L344.48,315.45 L345.08,316.66 L345.78,315.85 L346.40,315.98 L347.07,315.67 L347.81,316.20 L348.36,316.81 L349.01,316.22 L349.81,316.08 L350.39,317.20 L351.05,316.08 L351.55,316.81 L352.15,317.06 L352.70,316.94 L353.35,315.74 L353.93,315.49 L354.57,315.57 L355.20,315.95 L355.68,315.33 L356.32,315.17 L357.03,314.96 L357.61,315.51 L358.22,315.77 L358.90,315.53 L359.59,314.93 L360.21,314.51 L360.82,315.58 L361.51,315.22 L362.12,314.99 L362.76,314.78 L363.34,314.01 L363.93,314.13 L364.49,314.75 L365.11,314.16 L365.82,314.59 L366.41,314.60 L366.85,313.60 L367.42,314.09 L368.13,313.48 L368.68,313.77 L369.34,312.99 L369.97,312.98 L370.53,312.56 L371.02,313.49 L371.75,313.02 L372.21,311.84 L372.83,311.91 L373.50,312.20" fill="none" stroke="#f00" stroke-width="2.4" stroke-linejoin="round"/>
<path d="M91.06,503.86 L91.18,503.18 L91.47,502.43 L91.68,502.31 L91.82,501.34 L91.93,501.26 L92.09,499.85 L92.35,500.19 L92.41,498.71 L92.69,498.80 L92.70,497.77 L92.88,497.83 L93.07,497.39 L93.35,495.80 L93.43,495.57 L93.54,495.48 L93.54,493.99 L93.77,493.78 L93.86,493.50 L93.91,493.06 L93.98,492.00 L93.96,491.69 L94.13,490.86 L94.33,489.79 L94.39,489.09 L94.47,489.39 L94.47,488.48 L94.71,487.98 L94.72,486.91 L94.71,486.43 L94.88,485.64 L94.95,484.95 L95.13,484.99 L95.13,483.87 L95.28,483.51 L95.45,482.79 L95.42,482.82 L95.48,481.83 L95.62,481.53 L95.75,480.86 L95.77,480.14 L95.95,479.28 L96.08,479.12 L96.04,477.87 L96.18,477.16 L96.22,476.64 L96.34,476.54 L96.49,475.23 L96.56,475.05 L96.67,474.08 L96.71,473.28 L97.00,473.56 L96.92,472.91 L97.20,472.12 L97.12,471.43 L97.29,470.46 L97.41,469.63 L97.58,469.79 L97.63,469.53 L97.73,468.10 L97.75,467.36 L97.81,467.51 L98.07,466.33 L98.04,466.13 L98.27,465.87 L98.23,465.10 L98.47,464.44 L98.47,463.16 L98.67,462.71 L98.67,462.38 L98.77,462.11 L98.85,460.56 L99.01,460.65 L99.17,460.12 L99.30,459.77 L99.33,458.61 L99.37,457.74 L99.57,456.85 L99.70,456.32 L99.76,456.65 L99.80,454.91 L99.98,454.46 L100.14,453.60 L100.26,453.98 L100.33,452.81 L100.32,452.44 L100.45,451.51 L100.51,450.88 L100.66,450.69 L100.79,449.25 L100.76,448.93 L100.93,448.22 L100.98,447.30 L101.12,447.15 L101.37,447.09 L101.47,446.57 L101.61,445.54 L101.70,444.27 L101.80,444.33 L101.84,443.69 L102.09,442.98 L102.15,442.16 L102.21,442.26 L102.27,440.83 L102.52,440.54 L102.52,440.19 L102.67,439.50 L102.78,438.84 L102.90,438.08 L102.91,437.22 L103.16,437.06 L103.10,436.83 L103.22,435.31 L103.37,434.90 L103.46,434.66 L103.51,434.09 L103.58,433.42 L103.77,432.30 L103.83,431.69 L103.93,432.04 L104.05,431.26 L104.19,429.94 L104.33,430.07 L104.25,429.60 L104.40,428.21 L104.61,428.08 L104.67,426.96 L104.77,426.27 L104.76,426.05 L104.81,425.71 L104.94,424.76 L105.18,424.33 L105.36,423.98 L105.50,423.32 L105.65,423.11 L105.65,422.37 L105.82,421.81 L106.03,421.30 L106.06,420.17 L106.33,420.27 L106.47,418.60 L106.59,418.09 L106.72,418.35 L106.77,417.91 L107.03,416.52 L107.07,416.16 L107.35,415.74 L107.34,414.48 L107.49,414.83 L107.64,413.95 L107.81,413.53 L107.97,412.29 L108.21,412.18 L108.31,411.92 L108.51,410.38 L108.53,409.96 L108.70,410.24 L108.91,408.65 L108.92,409.01 L109.17,407.91 L109.27,407.04 L109.48,406.74 L109.63,406.42 L109.62,405.50 L109.96,405.64 L110.35,404.08 L110.59,403.93 L110.96,403.65 L111.26,402.85 L111.51,402.59 L111.89,401.38 L112.23,402.01 L112.47,400.46 L112.91,400.08 L113.15,399.82 L113.46,399.37 L113.83,399.30 L114.24,397.65 L114.47,398.00 L114.85,397.47 L115.12,396.77 L115.39,395.81 L115.79,395.99 L116.14,395.22 L116.33,394.79 L116.73,393.95 L117.03,393.22 L117.37,392.76 L117.63,392.15 L118.04,392.40 L118.42,391.13 L118.73,390.44 L119.11,389.79 L119.40,390.15 L119.85,389.11 L120.23,388.41 L120.51,387.59 L120.89,387.36 L121.33,387.12 L121.73,386.34 L122.08,386.10 L122.24,385.06 L122.67,385.47 L122.95,384.65 L123.29,384.21 L123.54,383.19 L124.03,382.38 L124.23,381.52 L124.53,381.25 L124.97,380.64 L125.23,380.06 L125.60,380.30 L125.93,378.94 L126.19,379.28 L126.40,377.65 L126.69,378.03 L126.83,376.56 L127.05,376.47 L127.43,376.02 L127.68,374.93 L127.80,375.00 L128.10,374.01 L128.35,373.36 L128.47,372.87 L128.71,372.55 L128.99,371.81 L129.27,370.94 L129.47,370.07 L129.79,370.15 L130.03,368.96 L130.19,369.18 L130.36,367.84 L130.55,367.32 L130.90,366.67 L131.14,366.49 L131.31,366.11 L131.73,365.71 L132.15,364.83 L132.60,364.26 L133.01,364.38 L133.44,363.35 L133.85,363.67 L134.19,362.27 L134.60,362.50 L134.93,360.81 L135.40,361.02 L135.85,360.10 L136.30,359.37 L136.75,358.87 L137.11,358.59 L137.61,358.70 L138.21,357.98 L138.79,357.87 L139.13,357.31 L139.72,358.58 L140.08,357.88 L140.68,358.52 L141.20,359.20 L141.75,359.36 L142.41,359.85 L142.94,360.73 L143.52,360.88 L144.09,360.59 L144.74,360.68 L145.25,360.14 L145.90,360.38 L146.59,359.85 L146.94,359.07 L147.45,358.95 L147.95,358.34 L148.55,358.54 L148.96,358.63 L149.44,357.78 L149.79,357.65 L150.30,356.45 L150.64,356.62 L150.91,355.55 L151.31,355.73 L151.61,354.99 L152.06,354.23 L152.42,354.26 L152.77,353.76 L153.23,353.14 L153.76,351.92 L154.19,352.39 L154.50,350.73 L154.89,351.37 L155.30,350.79 L155.68,350.09 L156.03,348.92 L156.50,348.34 L156.79,348.84 L157.22,348.30 L157.62,346.79 L157.83,347.21 L158.27,345.82 L158.59,345.56 L158.93,344.92 L159.20,345.49 L159.80,345.07 L160.30,344.32 L160.85,343.97 L161.40,344.00 L161.93,343.79 L162.54,342.75 L163.05,342.94 L163.70,342.48 L164.10,342.94 L164.78,342.38 L165.27,341.53 L165.89,341.22 L166.46,341.56 L167.15,341.43 L167.76,340.60 L168.44,341.18 L169.03,340.88 L169.67,341.21 L170.32,340.71 L170.85,340.05 L171.47,340.65 L172.08,339.76 L172.67,339.25 L173.38,338.87 L173.89,339.75 L174.41,339.15 L175.03,338.49 L175.58,338.12 L176.30,338.70 L176.90,337.60 L177.45,337.71 L178.03,337.76 L178.50,337.93 L178.97,337.32 L179.68,336.70 L180.16,336.95 L180.63,336.17 L181.27,335.54 L181.80,335.22 L182.30,335.14 L182.86,334.46 L183.39,334.39 L183.84,334.14 L184.39,334.15 L184.97,333.59 L185.51,332.96 L185.99,332.23 L186.67,332.35 L187.12,332.01 L187.72,331.33 L188.13,331.70 L188.72,331.14 L189.33,331.11 L189.87,329.75 L190.37,330.41 L191.04,329.27 L191.50,329.13 L192.08,328.97 L192.81,328.88 L193.33,328.07 L193.91,328.87 L194.56,327.92 L195.11,328.05 L195.75,326.98 L196.33,327.12 L196.88,326.85 L197.44,326.85 L198.04,326.34 L198.59,326.88 L199.15,326.29 L199.87,326.29 L200.38,326.13 L201.08,325.83 L201.63,326.63 L202.22,326.03 L203.02,326.18 L203.61,325.41 L204.31,325.72 L205.04,325.55 L205.64,325.87 L206.37,325.40 L206.94,325.56 L207.71,324.99 L208.37,325.50 L208.91,325.33 L209.55,324.51 L210.30,324.77 L210.91,324.80 L211.52,324.80 L211.88,324.29 L212.50,323.83 L213.11,323.46 L213.58,323.72 L214.11,322.93 L214.66,323.03 L215.22,322.62 L215.71,321.47 L216.30,321.77 L216.85,321.72 L217.31,320.81 L217.90,321.28 L218.49,320.16 L219.21,320.48 L219.66,320.37 L220.38,319.88 L220.84,319.88 L221.50,319.50 L222.21,319.53 L222.77,318.47 L223.32,318.87 L223.91,319.38 L224.62,318.45 L225.28,318.38 L226.05,318.69 L226.64,318.47 L227.20,318.28 L228.02,318.82 L228.67,318.11 L229.13,317.72 L229.79,317.97 L230.36,317.97 L230.98,317.68 L231.61,317.34 L232.22,317.63 L232.64,317.20 L233.33,317.17 L233.92,316.93 L234.45,317.36 L235.05,317.10 L235.74,316.81 L236.26,317.07 L236.85,316.85 L237.36,316.17 L238.07,315.56 L238.70,315.44 L239.24,315.42 L239.89,315.72 L240.46,315.50 L241.02,315.60 L241.54,314.93 L242.24,314.74 L242.84,314.71 L243.27,314.46 L244.00,315.38 L244.51,314.92 L245.07,315.11 L245.75,314.10 L246.21,314.63 L246.80,314.69 L247.44,313.86 L248.09,313.85 L248.67,313.54 L249.33,313.64 L249.91,313.32 L250.49,314.21 L251.00,312.96 L251.59,313.58 L252.14,313.35 L252.71,313.04 L253.43,312.78 L254.01,312.18 L254.63,311.97 L255.23,312.80 L255.83,312.01 L256.29,311.58 L256.97,311.54 L257.60,310.83 L258.10,311.54 L258.60,310.77 L258.98,309.90 L259.50,310.42 L260.10,309.24 L260.60,308.62 L261.02,309.36 L261.45,308.96 L262.00,307.52 L262.42,307.63 L262.89,307.61 L263.36,307.29 L263.87,306.05 L264.41,305.71 L265.04,306.33 L265.68,305.73 L266.19,305.57 L266.83,305.52 L267.47,305.22 L268.14,304.76 L268.83,304.30 L269.30,305.52 L269.89,305.69 L270.56,305.54 L270.98,305.36 L271.69,305.68 L272.17,306.47 L272.66,306.67 L273.23,307.04 L273.89,307.03 L274.42,307.26 L275.01,307.12 L275.61,308.21 L276.25,308.42 L276.74,308.67 L277.43,308.68 L278.03,308.75 L278.56,309.01 L279.13,308.62 L279.70,308.58 L280.38,308.27 L281.05,307.83 L281.58,307.82 L282.17,308.29 L282.78,307.23 L283.28,307.69 L284.02,306.83 L284.53,307.42 L285.16,306.81 L285.82,306.87 L286.50,306.24 L287.15,306.63 L287.70,306.15 L288.33,306.84 L289.07,306.05 L289.66,305.95 L290.28,305.95 L290.97,306.77 L291.69,306.37 L292.18,305.84 L292.83,306.15 L293.41,305.64 L293.89,305.45 L294.61,305.46 L295.05,305.20 L295.69,304.35 L296.40,304.79 L296.95,303.96 L297.56,304.78 L298.16,304.41 L298.74,304.34 L299.28,303.76 L299.92,304.04 L300.51,303.32 L301.12,303.46 L301.71,302.82 L302.30,303.48 L302.75,303.41 L303.34,302.45 L303.97,302.30 L304.57,302.92 L305.20,302.49 L305.73,302.39 L306.40,302.08 L307.02,302.06 L307.50,300.98 L308.14,301.69 L308.67,301.21 L309.40,301.33 L309.86,300.85 L310.49,300.27 L311.28,300.52 L311.87,300.45 L312.45,300.04 L313.08,300.67 L313.76,299.89 L314.29,299.75 L315.04,299.83 L315.69,300.31 L316.24,300.21 L316.87,300.42 L317.56,299.80 L318.37,299.96 L318.88,300.63 L319.61,300.68 L320.22,300.26 L320.99,300.31 L321.63,299.97 L322.22,299.98 L322.79,299.83 L323.35,301.01 L324.03,300.89 L324.62,300.38 L325.22,300.66 L325.92,300.34 L326.38,300.56 L327.03,299.97 L327.42,299.65 L328.04,299.77 L328.57,299.14 L329.18,298.53 L329.70,298.61 L330.44,298.29 L330.98,298.75 L331.58,298.47 L332.36,298.02 L332.97,298.15 L333.71,298.01 L334.34,297.06 L334.91,297.08 L335.69,297.87 L336.18,297.62 L336.93,297.08 L337.55,298.03 L338.25,297.58 L338.93,297.70 L339.54,297.97 L340.28,298.36 L340.91,298.50 L341.48,298.96 L342.14,298.79 L342.66,298.31 L343.32,299.27 L343.96,298.86 L344.43,299.22 L345.17,298.67 L345.73,298.56 L346.23,298.30 L346.82,298.58 L347.54,299.15 L347.98,298.25 L348.72,298.00 L349.18,298.17 L349.73,297.83 L350.38,297.86 L351.15,297.61 L351.65,298.27 L352.36,298.07 L353.05,297.89 L353.64,297.03 L354.38,297.30 L355.00,297.43 L355.69,296.84 L356.27,297.50 L356.90,296.64 L357.51,296.49 L358.12,296.12 L358.73,296.64 L359.22,296.98 L359.79,296.03 L360.34,296.29 L361.07,296.33 L361.59,296.38 L362.12,295.67 L362.88,296.36 L363.54,295.93 L364.22,295.47 L364.91,295.79 L365.45,295.27 L366.19,295.12 L366.73,295.65 L367.45,295.13 L368.13,295.48 L368.66,294.68 L369.28,294.65 L370.00,295.06 L370.67,294.60 L371.25,294.48 L371.85,294.68 L372.59,294.55 L373.10,294.23 L373.80,293.90" fill="none" stroke="#0f0" stroke-width="2.2" stroke-linejoin="round"/>
<path d="M91.45,507.50 L91.55,507.86 L91.59,507.08 L91.64,506.62 L91.60,505.60 L91.78,504.79 L91.77,502.88 L91.90,504.10 L91.90,502.04 L91.96,501.15 L92.12,502.67 L92.22,500.60 L92.26,499.31 L92.36,499.32 L92.26,499.45 L92.36,498.01 L92.41,497.82 L92.58,498.09 L92.55,497.54 L92.63,495.50 L92.80,495.18 L92.81,495.13 L92.86,495.07 L92.92,494.59 L93.11,493.26 L93.02,493.25 L93.09,491.99 L93.24,490.34 L93.35,491.33 L93.41,489.95 L93.46,489.81 L93.48,489.88 L93.70,489.13 L93.77,487.38 L93.85,486.14 L93.82,485.68 L93.89,486.38 L94.01,485.22 L94.01,483.97 L94.10,483.57 L94.13,484.05 L94.27,482.72 L94.28,482.74 L94.35,481.07 L94.50,481.51 L94.66,481.00 L94.73,480.80 L94.76,479.70 L94.70,477.86 L94.76,478.82 L94.98,477.65 L94.96,476.37 L95.01,476.42 L95.25,475.02 L95.14,474.09 L95.27,475.22 L95.44,473.54 L95.37,472.09 L95.46,473.08 L95.59,472.98 L95.77,471.90 L95.78,471.35 L95.80,469.03 L95.98,469.37 L96.00,468.15 L96.06,469.11 L96.29,468.59 L96.44,466.76 L96.48,466.02 L96.59,466.51 L96.55,463.91 L96.65,464.67 L96.78,462.68 L96.96,463.93 L96.98,461.54 L97.16,462.10 L97.09,460.99 L97.29,461.72 L97.36,460.52 L97.39,458.96 L97.63,458.68 L97.56,458.57 L97.65,457.02 L97.81,457.34 L97.94,457.02 L98.00,454.87 L98.14,454.23 L98.19,454.46 L98.32,454.62 L98.33,453.87 L98.51,452.85 L98.49,453.30 L98.68,450.67 L98.70,452.29 L98.79,450.27 L98.99,450.71 L99.06,449.92 L99.03,447.76 L99.31,448.87 L99.21,446.46 L99.35,447.98 L99.44,446.77 L99.67,446.09 L99.76,444.59 L99.70,443.41 L99.92,443.02 L100.05,443.88 L99.99,443.51 L100.08,442.21 L100.16,442.27 L100.41,441.98 L100.32,441.23 L100.53,440.56 L100.61,439.48 L100.72,439.32 L100.76,436.95 L101.01,436.93 L101.12,435.67 L101.34,435.12 L101.51,436.43 L101.58,434.19 L101.77,433.81 L101.87,432.99 L102.13,433.45 L102.15,431.79 L102.37,433.02 L102.55,430.64 L102.60,430.53 L102.82,429.58 L102.94,430.99 L103.12,428.07 L103.13,427.74 L103.40,428.33 L103.52,427.40 L103.64,427.19 L103.84,427.34 L104.00,426.46 L104.19,425.98 L104.30,423.46 L104.44,424.84 L104.58,424.31 L104.73,423.87 L104.97,422.71 L105.13,421.14 L105.35,420.60 L105.49,420.29 L105.86,420.20 L106.05,419.87 L106.23,419.83 L106.41,417.50 L106.50,417.24 L106.65,416.21 L107.02,417.27 L107.10,416.31 L107.39,416.00 L107.59,414.55 L107.64,414.66 L107.88,413.59 L108.09,412.78 L108.40,411.28 L108.51,411.86 L108.71,411.95 L108.96,411.34 L109.29,410.92 L109.45,408.55 L109.76,409.67 L109.98,407.56 L110.40,408.76 L110.57,406.88 L110.95,406.94 L111.23,406.54 L111.41,404.79 L111.64,405.28 L111.96,403.69 L112.38,404.06 L112.58,403.54 L112.86,403.08 L113.08,401.02 L113.31,400.34 L113.64,400.10 L113.87,400.39 L114.32,400.30 L114.45,399.95 L114.78,397.83 L115.15,398.06 L115.58,397.63 L115.93,396.28 L116.32,396.36 L116.65,395.10 L117.00,395.06 L117.35,395.93 L117.66,394.16 L117.87,393.44 L118.40,392.85 L118.70,393.37 L119.04,391.88 L119.29,391.17 L119.80,391.34 L120.08,391.28 L120.34,389.56 L120.69,390.96 L121.10,390.74 L121.53,389.67 L121.87,389.34 L122.28,387.85 L122.72,386.75 L123.06,387.90 L123.45,386.42 L123.93,385.56 L124.21,385.06 L124.63,384.92 L125.07,384.69 L125.50,383.19 L125.85,384.59 L126.15,382.17 L126.51,381.83 L126.85,382.72 L127.10,380.75 L127.50,380.34 L127.78,380.43 L128.09,378.99 L128.46,379.41 L128.91,379.07 L129.06,377.72 L129.52,378.00 L129.87,378.41 L130.36,375.97 L130.87,376.58 L131.22,375.34 L131.83,375.05 L132.17,374.79 L132.82,374.87 L133.28,373.55 L133.71,373.74 L134.15,374.18 L134.67,372.49 L135.25,372.91 L135.55,371.34 L136.09,372.10 L136.42,371.55 L137.02,371.26 L137.37,370.72 L137.90,370.64 L138.27,370.57 L138.88,369.97 L139.32,368.63 L139.78,367.74 L140.19,368.36 L140.87,366.74 L141.28,366.25 L141.87,366.13 L142.36,367.21 L142.98,367.29 L143.49,366.29 L143.96,366.55 L144.55,365.04 L145.15,365.84 L145.69,365.61 L146.26,363.42 L146.84,363.05 L147.42,363.33 L147.81,364.21 L148.38,362.54 L148.92,362.84 L149.40,361.80 L149.92,362.49 L150.38,361.56 L150.93,360.79 L151.48,361.01 L151.89,359.48 L152.38,360.80 L152.88,358.43 L153.44,359.10 L154.01,357.44 L154.37,357.30 L154.93,357.59 L155.39,358.23 L155.93,357.76 L156.53,356.01 L157.06,356.01 L157.42,356.89 L157.97,354.40 L158.54,354.71 L159.21,355.77 L159.64,354.62 L160.26,354.95 L160.76,353.90 L161.19,352.92 L161.83,353.41 L162.40,353.88 L162.97,351.92 L163.32,353.34 L163.96,351.34 L164.52,351.25 L164.97,351.24 L165.56,351.72 L166.01,351.60 L166.65,350.68 L167.20,351.19 L167.60,350.14 L168.33,350.48 L168.91,348.99 L169.56,350.23 L170.01,349.15 L170.74,348.40 L171.22,349.99 L171.91,348.02 L172.47,348.10 L173.04,348.86 L173.53,347.33 L174.13,347.22 L174.69,346.69 L175.35,347.15 L175.88,347.32 L176.64,347.08 L177.11,347.17 L177.72,345.68 L178.32,345.08 L178.95,345.21 L179.47,346.91 L180.14,346.39 L180.71,345.68 L181.31,346.26 L181.80,345.56 L182.41,344.11 L183.10,344.72 L183.70,345.16 L184.24,343.32 L184.71,343.90 L185.45,343.05 L185.90,342.23 L186.51,343.71 L187.07,342.41 L187.71,343.39 L188.45,341.55 L188.86,343.56 L189.62,341.50 L190.09,342.21 L190.67,341.78 L191.30,341.22 L191.80,340.61 L192.41,340.44 L193.09,341.70 L193.61,341.74 L194.30,340.47 L194.84,339.91 L195.52,340.61 L195.93,339.45 L196.65,339.81 L197.24,339.25 L197.85,340.47 L198.30,339.81 L198.91,339.95 L199.62,340.00 L200.10,338.17 L200.77,339.16 L201.26,338.11 L201.94,337.76 L202.54,337.93 L203.05,338.22 L203.71,338.76 L204.21,338.58 L204.84,337.37 L205.53,338.15 L206.12,338.48 L206.64,336.89 L207.33,336.59 L207.83,336.33 L208.55,337.59 L209.14,337.73 L209.76,336.00 L210.26,336.81 L210.81,336.36 L211.41,334.83 L212.08,334.88 L212.76,336.44 L213.25,334.61 L213.77,335.17 L214.44,334.63 L215.07,334.84 L215.68,333.63 L216.12,334.12 L216.80,333.61 L217.42,333.38 L217.94,333.84 L218.61,334.40 L219.13,333.47 L219.84,334.49 L220.36,332.35 L220.92,333.48 L221.48,331.89 L222.21,333.83 L222.63,332.62 L223.38,332.11 L223.92,333.08 L224.72,332.22 L225.24,332.00 L225.90,333.26 L226.54,331.52 L227.34,331.05 L227.87,330.78 L228.53,331.78 L229.26,330.76 L229.71,332.04 L230.36,330.86 L230.88,330.48 L231.64,330.03 L232.09,331.38 L232.81,331.62 L233.31,331.60 L233.93,329.84 L234.49,330.72 L235.14,329.16 L235.62,331.00 L236.19,330.50 L236.83,329.00 L237.40,329.38 L238.14,328.46 L238.70,328.72 L239.15,329.59 L239.78,328.10 L240.38,329.47 L241.13,328.77 L241.61,329.11 L242.39,329.33 L243.11,327.84 L243.75,328.91 L244.29,327.71 L244.96,327.57 L245.62,326.88 L246.25,328.68 L246.87,327.91 L247.56,328.07 L248.02,328.35 L248.72,328.40 L249.30,327.71 L249.90,326.39 L250.46,326.57 L251.09,325.86 L251.62,326.23 L252.26,326.13 L252.86,327.22 L253.46,325.41 L254.06,326.76 L254.60,326.43 L255.06,326.84 L255.75,325.73 L256.30,326.41 L256.98,326.51 L257.45,325.13 L258.05,324.44 L258.67,324.12 L259.36,324.47 L259.81,323.95 L260.55,324.12 L261.09,324.47 L261.76,325.66 L262.26,324.75 L262.98,324.22 L263.58,324.71 L264.06,324.91 L264.71,322.93 L265.32,324.53 L265.90,323.56 L266.47,324.36 L267.11,322.60 L267.64,322.82 L268.35,323.47 L268.77,323.84 L269.35,322.92 L270.02,323.07 L270.61,321.42 L271.21,323.02 L271.86,321.76 L272.33,322.58 L273.04,321.21 L273.65,322.95 L274.15,321.37 L274.79,322.58 L275.28,320.96 L275.90,321.89 L276.46,321.33 L277.11,321.51 L277.63,322.10 L278.46,321.06 L279.07,320.06 L279.75,320.86 L280.37,321.53 L280.95,321.57 L281.57,319.32 L282.29,321.33 L283.02,321.38 L283.60,321.24 L284.27,319.23 L284.94,320.71 L285.55,320.11 L286.17,319.22 L286.86,319.68 L287.53,318.55 L288.09,319.04 L288.89,319.91 L289.45,318.61 L290.16,318.37 L290.83,320.06 L291.41,319.24 L292.17,319.58 L292.82,319.43 L293.39,319.68 L294.17,317.74 L294.83,318.62 L295.32,317.67 L296.11,319.05 L296.64,318.45 L297.39,319.66 L297.99,319.03 L298.63,317.59 L299.27,318.02 L300.01,317.68 L300.58,317.40 L301.22,317.26 L301.92,317.93 L302.55,317.80 L303.25,318.90 L303.92,318.76 L304.57,316.89 L305.25,316.68 L305.82,316.43 L306.58,318.50 L307.18,316.95 L307.84,316.86 L308.55,316.86 L309.10,317.91 L309.84,315.76 L310.55,317.40 L311.10,317.08 L311.87,316.44 L312.43,316.10 L313.11,316.89 L313.75,317.49 L314.23,316.01 L314.97,316.94 L315.52,316.59 L316.07,317.14 L316.71,315.76 L317.24,314.98 L317.98,316.54 L318.41,315.31 L319.10,315.64 L319.67,316.52 L320.27,315.56 L320.99,315.73 L321.55,314.91 L322.19,315.48 L322.92,314.56 L323.50,314.77 L324.15,315.95 L324.84,314.33 L325.46,315.55 L326.08,315.14 L326.70,313.86 L327.37,315.26 L328.04,313.79 L328.68,313.80 L329.47,314.82 L330.16,315.28 L330.74,315.15 L331.31,315.08 L332.03,313.24 L332.75,314.76 L333.33,312.85 L334.09,314.35 L334.69,314.81 L335.23,312.52 L335.90,312.36 L336.67,313.75 L337.21,312.54 L337.88,313.54 L338.63,314.33 L339.23,314.26 L339.90,312.76 L340.52,312.29 L341.32,314.03 L341.92,311.98 L342.47,311.83 L343.16,313.15 L343.76,312.56 L344.54,311.28 L345.14,313.02 L345.83,312.13 L346.54,312.41 L347.09,311.84 L347.87,312.87 L348.52,312.08 L349.02,311.08 L349.72,312.24 L350.30,312.42 L351.11,311.69 L351.61,312.33 L352.35,311.97 L353.04,312.07 L353.66,312.58 L354.42,312.46 L355.01,310.95 L355.62,310.79 L356.38,312.00 L357.01,312.00 L357.71,311.62 L358.23,311.72 L358.87,311.30 L359.51,311.83 L360.23,310.36 L360.97,309.83 L361.63,311.38 L362.13,311.33 L362.87,311.62 L363.53,310.41 L364.25,309.54 L364.88,309.52 L365.43,309.50 L366.21,310.23 L366.83,309.73 L367.49,310.61 L368.02,310.19 L368.80,309.44 L369.44,309.51 L370.04,310.97 L370.81,311.08 L371.36,309.98 L372.10,310.35 L372.68,310.53 L373.32,310.66 L374.00,309.50" fill="none" stroke="#00f" stroke-width="2.9" stroke-linejoin="round"/>
<text transform="translate(375.50,298.40) scale(0.98,1)" font-family="Liberation Sans" font-weight="bold" font-size="17.5" text-anchor="start" fill="#0f0" >3</text>
<text transform="translate(375.50,313.60) scale(0.98,1)" font-family="Liberation Sans" font-weight="bold" font-size="17.5" text-anchor="start" fill="#00f" >4</text>
<text transform="translate(375.50,329.00) scale(0.98,1)" font-family="Liberation Sans" font-weight="bold" font-size="17.5" text-anchor="start" fill="#f00" >2</text>
<polygon points="380.17,368.30 380.17,357.56 377.22,359.50 377.22,357.47 380.30,355.37 382.62,355.37 382.62,368.30" fill="#111"/>
<text transform="translate(20.60,150.80) scale(1.12,1)" font-family="Liberation Serif" font-weight="bold" font-size="14.2" text-anchor="start" fill="#111" >(A)</text>
<text transform="translate(26.40,290.70) scale(1.06,1)" font-family="Liberation Serif" font-weight="bold" font-size="14.2" text-anchor="start" fill="#111" >(B)</text>
</svg>
</body></html>
